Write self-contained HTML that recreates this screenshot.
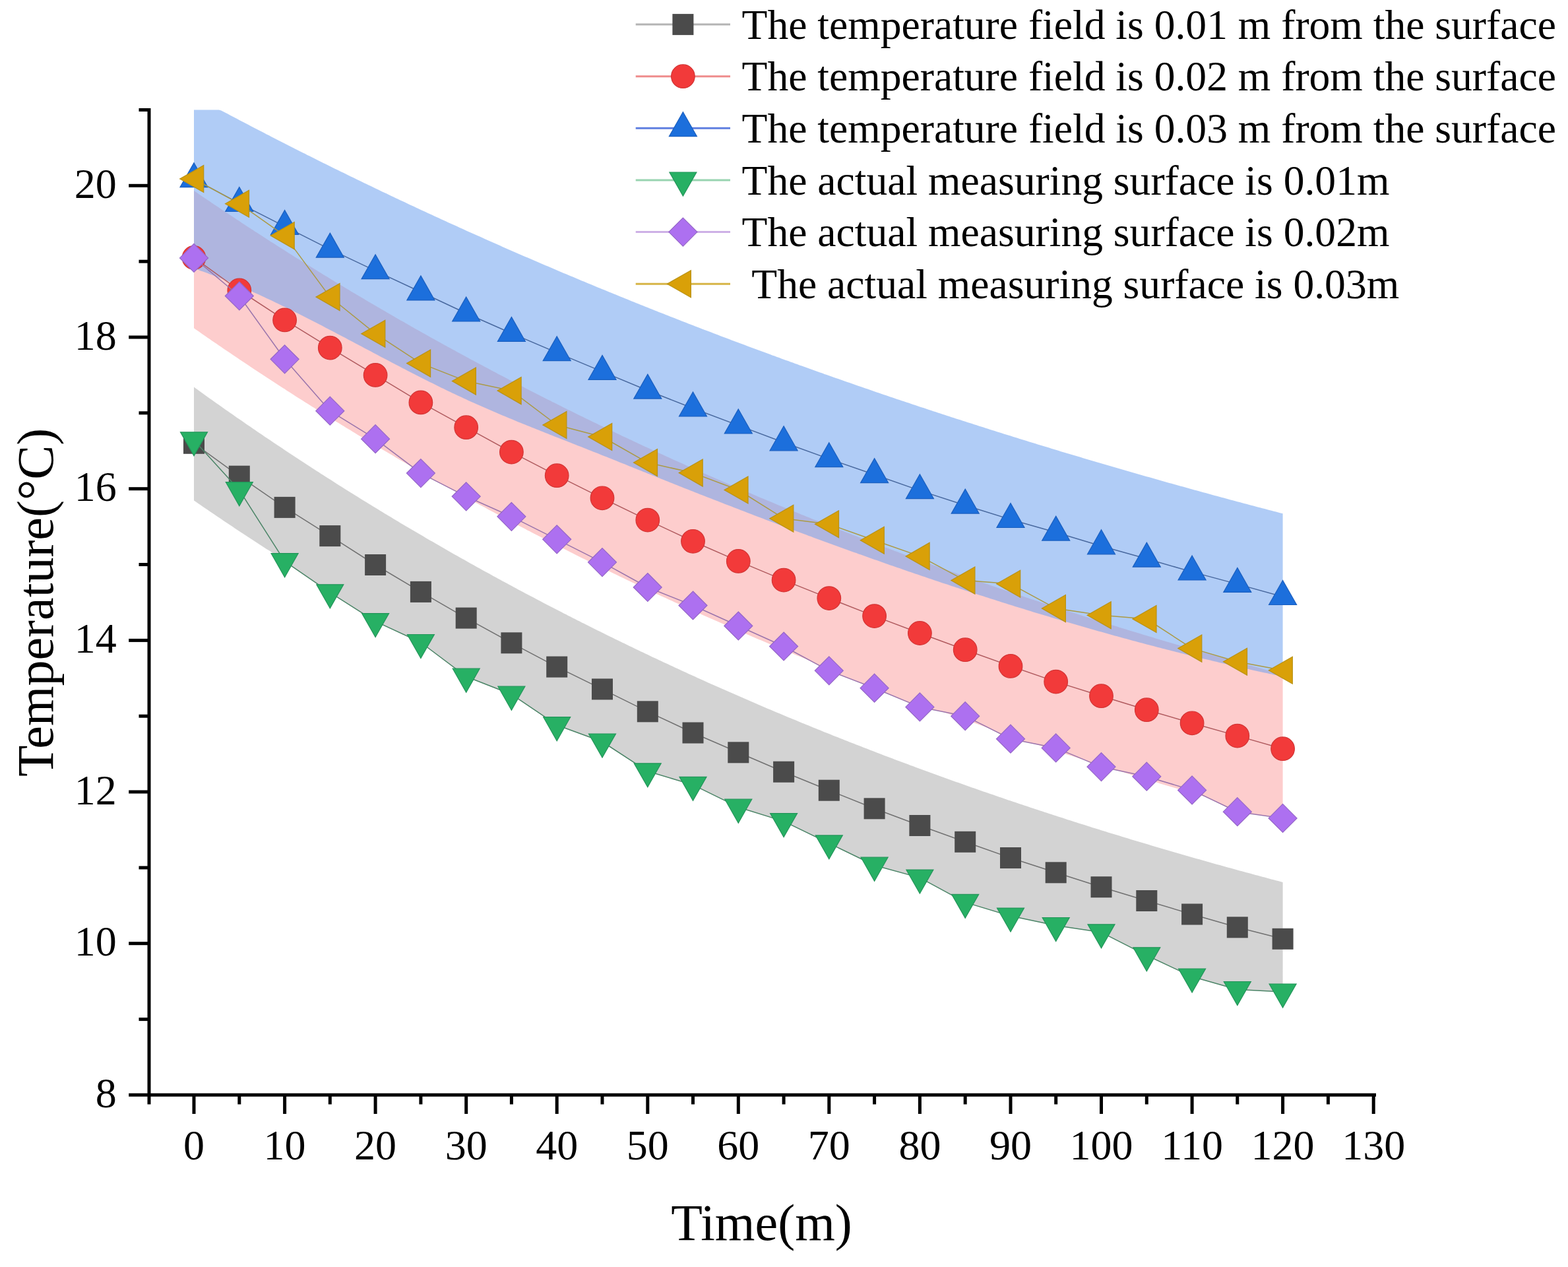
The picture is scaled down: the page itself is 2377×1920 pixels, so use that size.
<!DOCTYPE html><html><head><meta charset="utf-8"><title>Temperature vs Time</title><style>html,body{margin:0;padding:0;background:#fff;overflow:hidden}svg{display:block;filter:blur(0.7px)}text{font-family:"Liberation Serif","Times New Roman",serif;fill:#000}</style></head><body>
<svg xmlns="http://www.w3.org/2000/svg" width="2377" height="1920" viewBox="0 0 2377 1920">
<rect width="2377" height="1920" fill="#fff"/>
<path d="M294.0,586.6 L297.4,589.1 L300.9,591.6 L304.3,594.0 L307.8,596.5 L311.2,599.0 L314.6,601.4 L318.1,603.9 L321.5,606.3 L324.9,608.8 L328.4,611.2 L331.8,613.6 L335.3,616.0 L338.7,618.5 L342.1,620.9 L345.6,623.3 L349.0,625.7 L352.5,628.1 L355.9,630.5 L359.3,632.9 L362.8,635.3 L366.2,637.6 L369.7,640.0 L373.1,642.4 L376.5,644.8 L380.0,647.1 L383.4,649.5 L386.8,651.8 L390.3,654.2 L393.7,656.5 L397.2,658.8 L400.6,661.2 L404.0,663.5 L407.5,665.8 L410.9,668.1 L414.4,670.4 L417.8,672.7 L421.2,675.0 L424.7,677.3 L428.1,679.6 L431.6,681.9 L435.0,684.2 L438.4,686.5 L441.9,688.7 L445.3,691.0 L448.7,693.3 L452.2,695.5 L455.6,697.8 L459.1,700.0 L462.5,702.3 L465.9,704.5 L469.4,706.8 L472.8,709.0 L476.3,711.2 L479.7,713.4 L483.1,715.6 L486.6,717.9 L490.0,720.1 L493.4,722.3 L496.9,724.5 L500.3,726.6 L503.8,728.8 L507.2,731.0 L510.6,733.2 L514.1,735.4 L517.5,737.5 L521.0,739.7 L524.4,741.9 L527.8,744.0 L531.3,746.2 L534.7,748.3 L538.2,750.5 L541.6,752.6 L545.0,754.7 L548.5,756.9 L551.9,759.0 L555.3,761.1 L558.8,763.2 L562.2,765.3 L565.7,767.4 L569.1,769.5 L572.5,771.6 L576.0,773.7 L579.4,775.8 L582.9,777.9 L586.3,780.0 L589.7,782.0 L593.2,784.1 L596.6,786.2 L600.0,788.2 L603.5,790.3 L606.9,792.4 L610.4,794.4 L613.8,796.4 L617.2,798.5 L620.7,800.5 L624.1,802.6 L627.6,804.6 L631.0,806.6 L634.4,808.6 L637.9,810.6 L641.3,812.6 L644.8,814.7 L648.2,816.7 L651.6,818.7 L655.1,820.6 L658.5,822.6 L661.9,824.6 L665.4,826.6 L668.8,828.6 L672.3,830.6 L675.7,832.5 L679.1,834.5 L682.6,836.4 L686.0,838.4 L689.5,840.4 L692.9,842.3 L696.3,844.2 L699.8,846.2 L703.2,848.1 L706.7,850.1 L710.1,852.0 L713.5,853.9 L717.0,855.8 L720.4,857.7 L723.8,859.7 L727.3,861.6 L730.7,863.5 L734.2,865.4 L737.6,867.3 L741.0,869.1 L744.5,871.0 L747.9,872.9 L751.4,874.8 L754.8,876.7 L758.2,878.5 L761.7,880.4 L765.1,882.3 L768.5,884.1 L772.0,886.0 L775.4,887.8 L778.9,889.7 L782.3,891.5 L785.7,893.4 L789.2,895.2 L792.6,897.0 L796.1,898.9 L799.5,900.7 L802.9,902.5 L806.4,904.3 L809.8,906.1 L813.3,908.0 L816.7,909.8 L820.1,911.6 L823.6,913.4 L827.0,915.2 L830.4,916.9 L833.9,918.7 L837.3,920.5 L840.8,922.3 L844.2,924.1 L847.6,925.8 L851.1,927.6 L854.5,929.4 L858.0,931.1 L861.4,932.9 L864.8,934.6 L868.3,936.4 L871.7,938.1 L875.1,939.9 L878.6,941.6 L882.0,943.4 L885.5,945.1 L888.9,946.8 L892.3,948.5 L895.8,950.3 L899.2,952.0 L902.7,953.7 L906.1,955.4 L909.5,957.1 L913.0,958.8 L916.4,960.5 L919.9,962.2 L923.3,963.9 L926.7,965.6 L930.2,967.3 L933.6,968.9 L937.0,970.6 L940.5,972.3 L943.9,974.0 L947.4,975.6 L950.8,977.3 L954.2,979.0 L957.7,980.6 L961.1,982.3 L964.6,983.9 L968.0,985.6 L971.4,987.2 L974.9,988.8 L978.3,990.5 L981.8,992.1 L985.2,993.7 L988.6,995.4 L992.1,997.0 L995.5,998.6 L998.9,1000.2 L1002.4,1001.8 L1005.8,1003.4 L1009.3,1005.0 L1012.7,1006.6 L1016.1,1008.2 L1019.6,1009.8 L1023.0,1011.4 L1026.5,1013.0 L1029.9,1014.6 L1033.3,1016.2 L1036.8,1017.8 L1040.2,1019.3 L1043.6,1020.9 L1047.1,1022.5 L1050.5,1024.0 L1054.0,1025.6 L1057.4,1027.2 L1060.8,1028.7 L1064.3,1030.3 L1067.7,1031.8 L1071.2,1033.4 L1074.6,1034.9 L1078.0,1036.4 L1081.5,1038.0 L1084.9,1039.5 L1088.4,1041.0 L1091.8,1042.6 L1095.2,1044.1 L1098.7,1045.6 L1102.1,1047.1 L1105.5,1048.6 L1109.0,1050.1 L1112.4,1051.6 L1115.9,1053.1 L1119.3,1054.6 L1122.7,1056.1 L1126.2,1057.6 L1129.6,1059.1 L1133.1,1060.6 L1136.5,1062.1 L1139.9,1063.6 L1143.4,1065.1 L1146.8,1066.5 L1150.2,1068.0 L1153.7,1069.5 L1157.1,1070.9 L1160.6,1072.4 L1164.0,1073.9 L1167.4,1075.3 L1170.9,1076.8 L1174.3,1078.2 L1177.8,1079.7 L1181.2,1081.1 L1184.6,1082.6 L1188.1,1084.0 L1191.5,1085.4 L1195.0,1086.9 L1198.4,1088.3 L1201.8,1089.7 L1205.3,1091.1 L1208.7,1092.6 L1212.1,1094.0 L1215.6,1095.4 L1219.0,1096.8 L1222.5,1098.2 L1225.9,1099.6 L1229.3,1101.0 L1232.8,1102.4 L1236.2,1103.8 L1239.7,1105.2 L1243.1,1106.6 L1246.5,1108.0 L1250.0,1109.4 L1253.4,1110.7 L1256.8,1112.1 L1260.3,1113.5 L1263.7,1114.9 L1267.2,1116.2 L1270.6,1117.6 L1274.0,1119.0 L1277.5,1120.3 L1280.9,1121.7 L1284.4,1123.1 L1287.8,1124.4 L1291.2,1125.8 L1294.7,1127.1 L1298.1,1128.4 L1301.6,1129.8 L1305.0,1131.1 L1308.4,1132.5 L1311.9,1133.8 L1315.3,1135.1 L1318.7,1136.5 L1322.2,1137.8 L1325.6,1139.1 L1329.1,1140.4 L1332.5,1141.7 L1335.9,1143.0 L1339.4,1144.4 L1342.8,1145.7 L1346.3,1147.0 L1349.7,1148.3 L1353.1,1149.6 L1356.6,1150.9 L1360.0,1152.2 L1363.5,1153.5 L1366.9,1154.7 L1370.3,1156.0 L1373.8,1157.3 L1377.2,1158.6 L1380.6,1159.9 L1384.1,1161.1 L1387.5,1162.4 L1391.0,1163.7 L1394.4,1165.0 L1397.8,1166.2 L1401.3,1167.5 L1404.7,1168.7 L1408.2,1170.0 L1411.6,1171.3 L1415.0,1172.5 L1418.5,1173.8 L1421.9,1175.0 L1425.3,1176.2 L1428.8,1177.5 L1432.2,1178.7 L1435.7,1180.0 L1439.1,1181.2 L1442.5,1182.4 L1446.0,1183.7 L1449.4,1184.9 L1452.9,1186.1 L1456.3,1187.3 L1459.7,1188.5 L1463.2,1189.8 L1466.6,1191.0 L1470.1,1192.2 L1473.5,1193.4 L1476.9,1194.6 L1480.4,1195.8 L1483.8,1197.0 L1487.2,1198.2 L1490.7,1199.4 L1494.1,1200.6 L1497.6,1201.8 L1501.0,1202.9 L1504.4,1204.1 L1507.9,1205.3 L1511.3,1206.5 L1514.8,1207.7 L1518.2,1208.8 L1521.6,1210.0 L1525.1,1211.2 L1528.5,1212.4 L1532.0,1213.5 L1535.4,1214.7 L1538.8,1215.8 L1542.3,1217.0 L1545.7,1218.2 L1549.1,1219.3 L1552.6,1220.5 L1556.0,1221.6 L1559.5,1222.8 L1562.9,1223.9 L1566.3,1225.0 L1569.8,1226.2 L1573.2,1227.3 L1576.7,1228.4 L1580.1,1229.6 L1583.5,1230.7 L1587.0,1231.8 L1590.4,1233.0 L1593.8,1234.1 L1597.3,1235.2 L1600.7,1236.3 L1604.2,1237.4 L1607.6,1238.5 L1611.0,1239.6 L1614.5,1240.8 L1617.9,1241.9 L1621.4,1243.0 L1624.8,1244.1 L1628.2,1245.2 L1631.7,1246.3 L1635.1,1247.4 L1638.6,1248.4 L1642.0,1249.5 L1645.4,1250.6 L1648.9,1251.7 L1652.3,1252.8 L1655.7,1253.9 L1659.2,1254.9 L1662.6,1256.0 L1666.1,1257.1 L1669.5,1258.2 L1672.9,1259.2 L1676.4,1260.3 L1679.8,1261.4 L1683.3,1262.4 L1686.7,1263.5 L1690.1,1264.5 L1693.6,1265.6 L1697.0,1266.6 L1700.4,1267.7 L1703.9,1268.7 L1707.3,1269.8 L1710.8,1270.8 L1714.2,1271.9 L1717.6,1272.9 L1721.1,1274.0 L1724.5,1275.0 L1728.0,1276.0 L1731.4,1277.1 L1734.8,1278.1 L1738.3,1279.1 L1741.7,1280.1 L1745.2,1281.2 L1748.6,1282.2 L1752.0,1283.2 L1755.5,1284.2 L1758.9,1285.2 L1762.3,1286.2 L1765.8,1287.2 L1769.2,1288.2 L1772.7,1289.3 L1776.1,1290.3 L1779.5,1291.3 L1783.0,1292.3 L1786.4,1293.3 L1789.9,1294.2 L1793.3,1295.2 L1796.7,1296.2 L1800.2,1297.2 L1803.6,1298.2 L1807.1,1299.2 L1810.5,1300.2 L1813.9,1301.2 L1817.4,1302.1 L1820.8,1303.1 L1824.2,1304.1 L1827.7,1305.1 L1831.1,1306.0 L1834.6,1307.0 L1838.0,1308.0 L1841.4,1308.9 L1844.9,1309.9 L1848.3,1310.8 L1851.8,1311.8 L1855.2,1312.8 L1858.6,1313.7 L1862.1,1314.7 L1865.5,1315.6 L1868.9,1316.6 L1872.4,1317.5 L1875.8,1318.4 L1879.3,1319.4 L1882.7,1320.3 L1886.1,1321.3 L1889.6,1322.2 L1893.0,1323.1 L1896.5,1324.1 L1899.9,1325.0 L1903.3,1325.9 L1906.8,1326.8 L1910.2,1327.8 L1913.7,1328.7 L1917.1,1329.6 L1920.5,1330.5 L1924.0,1331.4 L1927.4,1332.4 L1930.8,1333.3 L1934.3,1334.2 L1937.7,1335.1 L1941.2,1336.0 L1944.6,1336.9 L1944.6,1503.0 L1941.2,1502.8 L1937.7,1502.6 L1934.3,1502.4 L1930.8,1502.3 L1927.4,1502.1 L1924.0,1501.9 L1920.5,1501.8 L1917.1,1501.6 L1913.7,1501.4 L1910.2,1501.2 L1906.8,1501.1 L1903.3,1500.9 L1899.9,1500.7 L1896.5,1500.5 L1893.0,1500.4 L1889.6,1500.2 L1886.1,1500.0 L1882.7,1499.9 L1879.3,1499.7 L1875.8,1499.5 L1872.4,1498.5 L1868.9,1497.6 L1865.5,1496.6 L1862.1,1495.6 L1858.6,1494.6 L1855.2,1493.7 L1851.8,1492.7 L1848.3,1491.7 L1844.9,1490.7 L1841.4,1489.8 L1838.0,1488.8 L1834.6,1487.8 L1831.1,1486.8 L1827.7,1485.8 L1824.2,1484.9 L1820.8,1483.9 L1817.4,1482.9 L1813.9,1481.9 L1810.5,1481.0 L1807.1,1480.0 L1803.6,1478.4 L1800.2,1476.8 L1796.7,1475.2 L1793.3,1473.6 L1789.9,1472.0 L1786.4,1470.3 L1783.0,1468.7 L1779.5,1467.1 L1776.1,1465.5 L1772.7,1463.9 L1769.2,1462.3 L1765.8,1460.7 L1762.3,1459.1 L1758.9,1457.5 L1755.5,1455.9 L1752.0,1454.3 L1748.6,1452.7 L1745.2,1451.1 L1741.7,1449.4 L1738.3,1447.8 L1734.8,1446.1 L1731.4,1444.3 L1728.0,1442.6 L1724.5,1440.8 L1721.1,1439.1 L1717.6,1437.3 L1714.2,1435.6 L1710.8,1433.8 L1707.3,1432.1 L1703.9,1430.3 L1700.4,1428.6 L1697.0,1426.8 L1693.6,1425.1 L1690.1,1423.3 L1686.7,1421.6 L1683.3,1419.8 L1679.8,1418.1 L1676.4,1416.3 L1672.9,1414.6 L1669.5,1412.8 L1666.1,1412.3 L1662.6,1411.8 L1659.2,1411.3 L1655.7,1410.7 L1652.3,1410.2 L1648.9,1409.7 L1645.4,1409.2 L1642.0,1408.7 L1638.6,1408.2 L1635.1,1407.6 L1631.7,1407.1 L1628.2,1406.6 L1624.8,1406.1 L1621.4,1405.6 L1617.9,1405.1 L1614.5,1404.5 L1611.0,1404.0 L1607.6,1403.5 L1604.2,1403.0 L1600.7,1402.5 L1597.3,1401.8 L1593.8,1401.0 L1590.4,1400.3 L1587.0,1399.6 L1583.5,1398.9 L1580.1,1398.2 L1576.7,1397.5 L1573.2,1396.7 L1569.8,1396.0 L1566.3,1395.3 L1562.9,1394.6 L1559.5,1393.9 L1556.0,1393.1 L1552.6,1392.4 L1549.1,1391.7 L1545.7,1391.0 L1542.3,1390.3 L1538.8,1389.6 L1535.4,1388.8 L1532.0,1388.1 L1528.5,1387.1 L1525.1,1386.1 L1521.6,1385.0 L1518.2,1384.0 L1514.8,1383.0 L1511.3,1381.9 L1507.9,1380.9 L1504.4,1379.9 L1501.0,1378.8 L1497.6,1377.8 L1494.1,1376.8 L1490.7,1375.7 L1487.2,1374.7 L1483.8,1373.6 L1480.4,1372.6 L1476.9,1371.6 L1473.5,1370.5 L1470.1,1369.5 L1466.6,1368.5 L1463.2,1367.4 L1459.7,1365.6 L1456.3,1363.7 L1452.9,1361.8 L1449.4,1360.0 L1446.0,1358.1 L1442.5,1356.3 L1439.1,1354.4 L1435.7,1352.5 L1432.2,1350.7 L1428.8,1348.8 L1425.3,1346.9 L1421.9,1345.1 L1418.5,1343.2 L1415.0,1341.3 L1411.6,1339.5 L1408.2,1337.6 L1404.7,1335.7 L1401.3,1333.9 L1397.8,1332.0 L1394.4,1330.1 L1391.0,1329.2 L1387.5,1328.2 L1384.1,1327.3 L1380.6,1326.3 L1377.2,1325.4 L1373.8,1324.4 L1370.3,1323.5 L1366.9,1322.5 L1363.5,1321.6 L1360.0,1320.7 L1356.6,1319.7 L1353.1,1318.8 L1349.7,1317.8 L1346.3,1316.9 L1342.8,1315.9 L1339.4,1315.0 L1335.9,1314.0 L1332.5,1313.1 L1329.1,1312.1 L1325.6,1311.2 L1322.2,1309.5 L1318.7,1307.8 L1315.3,1306.2 L1311.9,1304.5 L1308.4,1302.9 L1305.0,1301.2 L1301.6,1299.5 L1298.1,1297.9 L1294.7,1296.2 L1291.2,1294.5 L1287.8,1292.9 L1284.4,1291.2 L1280.9,1289.5 L1277.5,1287.9 L1274.0,1286.2 L1270.6,1284.5 L1267.2,1282.9 L1263.7,1281.2 L1260.3,1279.5 L1256.8,1277.9 L1253.4,1276.2 L1250.0,1274.5 L1246.5,1272.9 L1243.1,1271.2 L1239.7,1269.5 L1236.2,1267.9 L1232.8,1266.2 L1229.3,1264.6 L1225.9,1262.9 L1222.5,1261.2 L1219.0,1259.6 L1215.6,1257.9 L1212.1,1256.2 L1208.7,1254.6 L1205.3,1252.9 L1201.8,1251.2 L1198.4,1249.6 L1195.0,1247.9 L1191.5,1246.2 L1188.1,1244.6 L1184.6,1243.5 L1181.2,1242.4 L1177.8,1241.4 L1174.3,1240.3 L1170.9,1239.2 L1167.4,1238.2 L1164.0,1237.1 L1160.6,1236.0 L1157.1,1235.0 L1153.7,1233.9 L1150.2,1232.8 L1146.8,1231.8 L1143.4,1230.7 L1139.9,1229.6 L1136.5,1228.5 L1133.1,1227.5 L1129.6,1226.4 L1126.2,1225.3 L1122.7,1224.3 L1119.3,1223.2 L1115.9,1221.5 L1112.4,1219.8 L1109.0,1218.1 L1105.5,1216.5 L1102.1,1214.8 L1098.7,1213.1 L1095.2,1211.4 L1091.8,1209.7 L1088.4,1208.0 L1084.9,1206.3 L1081.5,1204.6 L1078.0,1203.0 L1074.6,1201.3 L1071.2,1199.6 L1067.7,1197.9 L1064.3,1196.2 L1060.8,1194.5 L1057.4,1192.8 L1054.0,1191.1 L1050.5,1189.4 L1047.1,1188.4 L1043.6,1187.4 L1040.2,1186.3 L1036.8,1185.3 L1033.3,1184.3 L1029.9,1183.2 L1026.5,1182.2 L1023.0,1181.2 L1019.6,1180.1 L1016.1,1179.1 L1012.7,1178.1 L1009.3,1177.0 L1005.8,1176.0 L1002.4,1175.0 L998.9,1173.9 L995.5,1172.9 L992.1,1171.9 L988.6,1170.8 L985.2,1169.8 L981.8,1168.8 L978.3,1166.5 L974.9,1164.3 L971.4,1162.1 L968.0,1159.8 L964.6,1157.6 L961.1,1155.3 L957.7,1153.1 L954.2,1150.9 L950.8,1148.6 L947.4,1146.4 L943.9,1144.1 L940.5,1141.9 L937.0,1139.7 L933.6,1137.4 L930.2,1135.2 L926.7,1132.9 L923.3,1130.7 L919.9,1128.5 L916.4,1126.2 L913.0,1124.0 L909.5,1122.7 L906.1,1121.5 L902.7,1120.2 L899.2,1118.9 L895.8,1117.7 L892.3,1116.4 L888.9,1115.1 L885.5,1113.9 L882.0,1112.6 L878.6,1111.4 L875.1,1110.1 L871.7,1108.8 L868.3,1107.6 L864.8,1106.3 L861.4,1105.0 L858.0,1103.8 L854.5,1102.5 L851.1,1101.2 L847.6,1100.0 L844.2,1098.7 L840.8,1096.4 L837.3,1094.1 L833.9,1091.7 L830.4,1089.4 L827.0,1087.1 L823.6,1084.8 L820.1,1082.4 L816.7,1080.1 L813.3,1077.8 L809.8,1075.5 L806.4,1073.1 L802.9,1070.8 L799.5,1068.5 L796.1,1066.2 L792.6,1063.8 L789.2,1061.5 L785.7,1059.2 L782.3,1056.9 L778.9,1054.5 L775.4,1052.2 L772.0,1050.9 L768.5,1049.5 L765.1,1048.2 L761.7,1046.8 L758.2,1045.5 L754.8,1044.1 L751.4,1042.8 L747.9,1041.4 L744.5,1040.1 L741.0,1038.7 L737.6,1037.4 L734.2,1036.0 L730.7,1034.7 L727.3,1033.3 L723.8,1032.0 L720.4,1030.6 L717.0,1029.3 L713.5,1027.9 L710.1,1026.6 L706.7,1025.2 L703.2,1022.6 L699.8,1020.1 L696.3,1017.5 L692.9,1014.9 L689.5,1012.3 L686.0,1009.7 L682.6,1007.1 L679.1,1004.6 L675.7,1002.0 L672.3,999.4 L668.8,996.8 L665.4,994.2 L661.9,991.6 L658.5,989.1 L655.1,986.5 L651.6,983.9 L648.2,981.3 L644.8,978.7 L641.3,976.1 L637.9,973.5 L634.4,972.0 L631.0,970.4 L627.6,968.8 L624.1,967.2 L620.7,965.6 L617.2,964.0 L613.8,962.4 L610.4,960.8 L606.9,959.2 L603.5,957.6 L600.0,956.0 L596.6,954.4 L593.2,952.8 L589.7,951.2 L586.3,949.6 L582.9,948.0 L579.4,946.4 L576.0,944.8 L572.5,943.2 L569.1,941.6 L565.7,939.4 L562.2,937.2 L558.8,935.0 L555.3,932.8 L551.9,930.7 L548.5,928.5 L545.0,926.3 L541.6,924.1 L538.2,921.9 L534.7,919.7 L531.3,917.5 L527.8,915.3 L524.4,913.1 L521.0,910.9 L517.5,908.7 L514.1,906.5 L510.6,904.3 L507.2,902.1 L503.8,899.9 L500.3,897.8 L496.9,895.4 L493.4,893.0 L490.0,890.7 L486.6,888.3 L483.1,886.0 L479.7,883.6 L476.3,881.3 L472.8,878.9 L469.4,876.6 L465.9,874.2 L462.5,871.9 L459.1,869.5 L455.6,867.1 L452.2,864.8 L448.7,862.4 L445.3,860.1 L441.9,857.7 L438.4,855.4 L435.0,853.0 L431.6,850.7 L428.1,847.3 L424.7,845.1 L421.2,842.9 L417.8,840.7 L414.4,838.5 L410.9,836.3 L407.5,834.1 L404.0,831.9 L400.6,829.7 L397.2,827.5 L393.7,825.2 L390.3,823.0 L386.8,820.8 L383.4,818.5 L380.0,816.3 L376.5,814.0 L373.1,811.8 L369.7,809.5 L366.2,807.2 L362.8,804.9 L359.3,802.7 L355.9,800.4 L352.5,798.1 L349.0,795.8 L345.6,793.5 L342.1,791.2 L338.7,788.9 L335.3,786.6 L331.8,784.3 L328.4,782.0 L324.9,779.6 L321.5,777.3 L318.1,775.0 L314.6,772.6 L311.2,770.3 L307.8,767.9 L304.3,765.6 L300.9,763.2 L297.4,760.8 L294.0,758.5 Z" fill="#d3d3d3"/>
<path d="M294.0,289.0 L297.4,291.3 L300.9,293.7 L304.3,296.0 L307.8,298.4 L311.2,300.7 L314.6,303.0 L318.1,305.3 L321.5,307.7 L324.9,310.0 L328.4,312.3 L331.8,314.6 L335.3,316.9 L338.7,319.2 L342.1,321.5 L345.6,323.8 L349.0,326.1 L352.5,328.3 L355.9,330.6 L359.3,332.9 L362.8,335.1 L366.2,337.4 L369.7,339.7 L373.1,341.9 L376.5,344.2 L380.0,346.4 L383.4,348.6 L386.8,350.9 L390.3,353.1 L393.7,355.3 L397.2,357.6 L400.6,359.8 L404.0,362.0 L407.5,364.2 L410.9,366.4 L414.4,368.6 L417.8,370.8 L421.2,373.0 L424.7,375.2 L428.1,377.3 L431.6,379.5 L435.0,381.7 L438.4,383.9 L441.9,386.0 L445.3,388.2 L448.7,390.4 L452.2,392.5 L455.6,394.7 L459.1,396.8 L462.5,398.9 L465.9,401.1 L469.4,403.2 L472.8,405.3 L476.3,407.5 L479.7,409.6 L483.1,411.7 L486.6,413.8 L490.0,415.9 L493.4,418.0 L496.9,420.1 L500.3,422.2 L503.8,424.3 L507.2,426.4 L510.6,428.5 L514.1,430.6 L517.5,432.6 L521.0,434.7 L524.4,436.8 L527.8,438.8 L531.3,440.9 L534.7,442.9 L538.2,445.0 L541.6,447.0 L545.0,449.1 L548.5,451.1 L551.9,453.1 L555.3,455.2 L558.8,457.2 L562.2,459.2 L565.7,461.2 L569.1,463.3 L572.5,465.3 L576.0,467.3 L579.4,469.3 L582.9,471.3 L586.3,473.3 L589.7,475.3 L593.2,477.3 L596.6,479.2 L600.0,481.2 L603.5,483.2 L606.9,485.2 L610.4,487.1 L613.8,489.1 L617.2,491.1 L620.7,493.0 L624.1,495.0 L627.6,496.9 L631.0,498.9 L634.4,500.8 L637.9,502.7 L641.3,504.7 L644.8,506.6 L648.2,508.5 L651.6,510.4 L655.1,512.4 L658.5,514.3 L661.9,516.2 L665.4,518.1 L668.8,520.0 L672.3,521.9 L675.7,523.8 L679.1,525.7 L682.6,527.6 L686.0,529.5 L689.5,531.3 L692.9,533.2 L696.3,535.1 L699.8,537.0 L703.2,538.8 L706.7,540.7 L710.1,542.6 L713.5,544.4 L717.0,546.3 L720.4,548.1 L723.8,550.0 L727.3,551.8 L730.7,553.6 L734.2,555.5 L737.6,557.3 L741.0,559.1 L744.5,561.0 L747.9,562.8 L751.4,564.6 L754.8,566.4 L758.2,568.2 L761.7,570.0 L765.1,571.8 L768.5,573.6 L772.0,575.4 L775.4,577.2 L778.9,579.0 L782.3,580.8 L785.7,582.6 L789.2,584.3 L792.6,586.1 L796.1,587.9 L799.5,589.7 L802.9,591.4 L806.4,593.2 L809.8,594.9 L813.3,596.7 L816.7,598.4 L820.1,600.2 L823.6,601.9 L827.0,603.7 L830.4,605.4 L833.9,607.1 L837.3,608.9 L840.8,610.6 L844.2,612.3 L847.6,614.0 L851.1,615.8 L854.5,617.5 L858.0,619.2 L861.4,620.9 L864.8,622.6 L868.3,624.3 L871.7,626.0 L875.1,627.7 L878.6,629.4 L882.0,631.1 L885.5,632.7 L888.9,634.4 L892.3,636.1 L895.8,637.8 L899.2,639.4 L902.7,641.1 L906.1,642.8 L909.5,644.4 L913.0,646.1 L916.4,647.7 L919.9,649.4 L923.3,651.0 L926.7,652.7 L930.2,654.3 L933.6,656.0 L937.0,657.6 L940.5,659.2 L943.9,660.9 L947.4,662.5 L950.8,664.1 L954.2,665.7 L957.7,667.3 L961.1,668.9 L964.6,670.6 L968.0,672.2 L971.4,673.8 L974.9,675.4 L978.3,677.0 L981.8,678.6 L985.2,680.1 L988.6,681.7 L992.1,683.3 L995.5,684.9 L998.9,686.5 L1002.4,688.1 L1005.8,689.6 L1009.3,691.2 L1012.7,692.8 L1016.1,694.3 L1019.6,695.9 L1023.0,697.4 L1026.5,699.0 L1029.9,700.5 L1033.3,702.1 L1036.8,703.6 L1040.2,705.2 L1043.6,706.7 L1047.1,708.2 L1050.5,709.8 L1054.0,711.3 L1057.4,712.8 L1060.8,714.4 L1064.3,715.9 L1067.7,717.4 L1071.2,718.9 L1074.6,720.4 L1078.0,721.9 L1081.5,723.4 L1084.9,724.9 L1088.4,726.4 L1091.8,727.9 L1095.2,729.4 L1098.7,730.9 L1102.1,732.4 L1105.5,733.9 L1109.0,735.4 L1112.4,736.9 L1115.9,738.3 L1119.3,739.8 L1122.7,741.3 L1126.2,742.7 L1129.6,744.2 L1133.1,745.7 L1136.5,747.1 L1139.9,748.6 L1143.4,750.0 L1146.8,751.5 L1150.2,752.9 L1153.7,754.4 L1157.1,755.8 L1160.6,757.3 L1164.0,758.7 L1167.4,760.1 L1170.9,761.6 L1174.3,763.0 L1177.8,764.4 L1181.2,765.9 L1184.6,767.3 L1188.1,768.7 L1191.5,770.1 L1195.0,771.5 L1198.4,772.9 L1201.8,774.3 L1205.3,775.7 L1208.7,777.1 L1212.1,778.5 L1215.6,779.9 L1219.0,781.3 L1222.5,782.7 L1225.9,784.1 L1229.3,785.5 L1232.8,786.9 L1236.2,788.2 L1239.7,789.6 L1243.1,791.0 L1246.5,792.4 L1250.0,793.7 L1253.4,795.1 L1256.8,796.5 L1260.3,797.8 L1263.7,799.2 L1267.2,800.5 L1270.6,801.9 L1274.0,803.2 L1277.5,804.6 L1280.9,805.9 L1284.4,807.3 L1287.8,808.6 L1291.2,809.9 L1294.7,811.3 L1298.1,812.6 L1301.6,813.9 L1305.0,815.3 L1308.4,816.6 L1311.9,817.9 L1315.3,819.2 L1318.7,820.5 L1322.2,821.9 L1325.6,823.2 L1329.1,824.5 L1332.5,825.8 L1335.9,827.1 L1339.4,828.4 L1342.8,829.7 L1346.3,831.0 L1349.7,832.3 L1353.1,833.6 L1356.6,834.9 L1360.0,836.1 L1363.5,837.4 L1366.9,838.7 L1370.3,840.0 L1373.8,841.3 L1377.2,842.5 L1380.6,843.8 L1384.1,845.1 L1387.5,846.3 L1391.0,847.6 L1394.4,848.9 L1397.8,850.1 L1401.3,851.4 L1404.7,852.6 L1408.2,853.9 L1411.6,855.1 L1415.0,856.4 L1418.5,857.6 L1421.9,858.9 L1425.3,860.1 L1428.8,861.3 L1432.2,862.6 L1435.7,863.8 L1439.1,865.0 L1442.5,866.2 L1446.0,867.5 L1449.4,868.7 L1452.9,869.9 L1456.3,871.1 L1459.7,872.3 L1463.2,873.6 L1466.6,874.8 L1470.1,876.0 L1473.5,877.2 L1476.9,878.4 L1480.4,879.6 L1483.8,880.8 L1487.2,882.0 L1490.7,883.2 L1494.1,884.4 L1497.6,885.5 L1501.0,886.7 L1504.4,887.9 L1507.9,889.1 L1511.3,890.3 L1514.8,891.5 L1518.2,892.6 L1521.6,893.8 L1525.1,895.0 L1528.5,896.1 L1532.0,897.3 L1535.4,898.5 L1538.8,899.6 L1542.3,900.8 L1545.7,901.9 L1549.1,903.1 L1552.6,904.3 L1556.0,905.4 L1559.5,906.6 L1562.9,907.7 L1566.3,908.8 L1569.8,910.0 L1573.2,911.1 L1576.7,912.3 L1580.1,913.4 L1583.5,914.5 L1587.0,915.7 L1590.4,916.8 L1593.8,917.9 L1597.3,919.0 L1600.7,920.2 L1604.2,921.3 L1607.6,922.4 L1611.0,923.5 L1614.5,924.6 L1617.9,925.7 L1621.4,926.8 L1624.8,927.9 L1628.2,929.0 L1631.7,930.1 L1635.1,931.2 L1638.6,932.3 L1642.0,933.4 L1645.4,934.5 L1648.9,935.6 L1652.3,936.7 L1655.7,937.8 L1659.2,938.9 L1662.6,940.0 L1666.1,941.0 L1669.5,942.1 L1672.9,943.2 L1676.4,944.3 L1679.8,945.3 L1683.3,946.4 L1686.7,947.5 L1690.1,948.5 L1693.6,949.6 L1697.0,950.7 L1700.4,951.7 L1703.9,952.8 L1707.3,953.8 L1710.8,954.9 L1714.2,955.9 L1717.6,957.0 L1721.1,958.0 L1724.5,959.1 L1728.0,960.1 L1731.4,961.2 L1734.8,962.2 L1738.3,963.2 L1741.7,964.3 L1745.2,965.3 L1748.6,966.3 L1752.0,967.4 L1755.5,968.4 L1758.9,969.4 L1762.3,970.4 L1765.8,971.5 L1769.2,972.5 L1772.7,973.5 L1776.1,974.5 L1779.5,975.5 L1783.0,976.5 L1786.4,977.6 L1789.9,978.6 L1793.3,979.6 L1796.7,980.6 L1800.2,981.6 L1803.6,982.6 L1807.1,983.6 L1810.5,984.6 L1813.9,985.6 L1817.4,986.5 L1820.8,987.5 L1824.2,988.5 L1827.7,989.5 L1831.1,990.5 L1834.6,991.5 L1838.0,992.5 L1841.4,993.4 L1844.9,994.4 L1848.3,995.4 L1851.8,996.4 L1855.2,997.3 L1858.6,998.3 L1862.1,999.3 L1865.5,1000.2 L1868.9,1001.2 L1872.4,1002.1 L1875.8,1003.1 L1879.3,1004.1 L1882.7,1005.0 L1886.1,1006.0 L1889.6,1006.9 L1893.0,1007.9 L1896.5,1008.8 L1899.9,1009.8 L1903.3,1010.7 L1906.8,1011.6 L1910.2,1012.6 L1913.7,1013.5 L1917.1,1014.5 L1920.5,1015.4 L1924.0,1016.3 L1927.4,1017.3 L1930.8,1018.2 L1934.3,1019.1 L1937.7,1020.0 L1941.2,1021.0 L1944.6,1021.9 L1944.6,1240.1 L1941.2,1239.4 L1937.7,1238.9 L1934.3,1238.4 L1930.8,1238.0 L1927.4,1237.5 L1924.0,1237.0 L1920.5,1236.5 L1917.1,1236.0 L1913.7,1235.5 L1910.2,1235.1 L1906.8,1234.6 L1903.3,1234.1 L1899.9,1233.6 L1896.5,1233.1 L1893.0,1232.7 L1889.6,1232.2 L1886.1,1231.7 L1882.7,1231.2 L1879.3,1230.7 L1875.8,1230.2 L1872.4,1228.6 L1868.9,1227.0 L1865.5,1225.3 L1862.1,1223.7 L1858.6,1222.0 L1855.2,1220.4 L1851.8,1218.7 L1848.3,1217.1 L1844.9,1215.5 L1841.4,1213.8 L1838.0,1212.2 L1834.6,1210.5 L1831.1,1208.9 L1827.7,1207.6 L1824.2,1206.6 L1820.8,1205.6 L1817.4,1204.6 L1813.9,1203.6 L1810.5,1202.6 L1807.1,1201.6 L1803.6,1200.6 L1800.2,1199.6 L1796.7,1198.6 L1793.3,1197.6 L1789.9,1196.6 L1786.4,1195.6 L1783.0,1194.5 L1779.5,1193.5 L1776.1,1192.5 L1772.7,1191.5 L1769.2,1190.5 L1765.8,1189.4 L1762.3,1188.4 L1758.9,1187.4 L1755.5,1186.3 L1752.0,1185.3 L1748.6,1184.3 L1745.2,1183.2 L1741.7,1182.2 L1738.3,1181.2 L1734.8,1180.1 L1731.4,1179.1 L1728.0,1178.0 L1724.5,1177.0 L1721.1,1175.9 L1717.6,1174.9 L1714.2,1173.8 L1710.8,1172.8 L1707.3,1171.7 L1703.9,1170.6 L1700.4,1169.6 L1697.0,1168.5 L1693.6,1167.4 L1690.1,1166.5 L1686.7,1165.8 L1683.3,1165.1 L1679.8,1164.3 L1676.4,1163.6 L1672.9,1162.9 L1669.5,1162.1 L1666.1,1160.7 L1662.6,1159.3 L1659.2,1157.8 L1655.7,1156.4 L1652.3,1155.0 L1648.9,1153.5 L1645.4,1152.2 L1642.0,1151.1 L1638.6,1150.0 L1635.1,1148.9 L1631.7,1147.8 L1628.2,1146.7 L1624.8,1145.6 L1621.4,1144.5 L1617.9,1143.4 L1614.5,1142.3 L1611.0,1141.1 L1607.6,1140.0 L1604.2,1138.9 L1600.7,1137.8 L1597.3,1136.6 L1593.8,1135.5 L1590.4,1134.4 L1587.0,1133.2 L1583.5,1132.1 L1580.1,1130.9 L1576.7,1129.8 L1573.2,1128.7 L1569.8,1127.5 L1566.3,1126.5 L1562.9,1125.9 L1559.5,1125.2 L1556.0,1124.5 L1552.6,1123.8 L1549.1,1123.1 L1545.7,1122.4 L1542.3,1121.7 L1538.8,1121.0 L1535.4,1120.3 L1532.0,1119.7 L1528.5,1117.9 L1525.1,1116.2 L1521.6,1114.5 L1518.2,1112.8 L1514.8,1111.0 L1511.3,1109.3 L1507.9,1107.6 L1504.4,1105.9 L1501.0,1104.1 L1497.6,1102.9 L1494.1,1101.7 L1490.7,1100.5 L1487.2,1099.3 L1483.8,1098.1 L1480.4,1096.8 L1476.9,1095.6 L1473.5,1094.4 L1470.1,1093.2 L1466.6,1092.0 L1463.2,1090.8 L1459.7,1089.5 L1456.3,1088.3 L1452.9,1087.1 L1449.4,1085.9 L1446.0,1084.6 L1442.5,1083.4 L1439.1,1082.2 L1435.7,1080.9 L1432.2,1079.7 L1428.8,1078.4 L1425.3,1077.6 L1421.9,1076.9 L1418.5,1076.2 L1415.0,1075.6 L1411.6,1074.9 L1408.2,1074.2 L1404.7,1073.5 L1401.3,1072.8 L1397.8,1072.1 L1394.4,1071.4 L1391.0,1070.0 L1387.5,1068.5 L1384.1,1067.1 L1380.6,1065.7 L1377.2,1064.2 L1373.8,1062.8 L1370.3,1061.4 L1366.9,1059.9 L1363.5,1058.5 L1360.0,1057.1 L1356.6,1055.6 L1353.1,1054.2 L1349.7,1052.8 L1346.3,1051.3 L1342.8,1049.9 L1339.4,1048.5 L1335.9,1047.0 L1332.5,1045.6 L1329.1,1044.1 L1325.6,1042.7 L1322.2,1041.4 L1318.7,1040.1 L1315.3,1038.7 L1311.9,1037.4 L1308.4,1036.1 L1305.0,1034.8 L1301.6,1033.5 L1298.1,1032.1 L1294.7,1030.8 L1291.2,1029.5 L1287.8,1028.2 L1284.4,1026.9 L1280.9,1025.5 L1277.5,1024.2 L1274.0,1022.9 L1270.6,1021.6 L1267.2,1020.3 L1263.7,1018.9 L1260.3,1017.6 L1256.8,1016.3 L1253.4,1014.5 L1250.0,1012.6 L1246.5,1010.8 L1243.1,1008.9 L1239.7,1007.1 L1236.2,1005.3 L1232.8,1003.4 L1229.3,1001.8 L1225.9,1000.4 L1222.5,999.0 L1219.0,997.6 L1215.6,996.2 L1212.1,994.8 L1208.7,993.4 L1205.3,991.9 L1201.8,990.5 L1198.4,989.1 L1195.0,987.7 L1191.5,986.2 L1188.1,984.8 L1184.6,983.4 L1181.2,981.9 L1177.8,980.5 L1174.3,979.1 L1170.9,977.6 L1167.4,976.2 L1164.0,974.7 L1160.6,973.3 L1157.1,971.8 L1153.7,970.3 L1150.2,968.9 L1146.8,967.4 L1143.4,965.9 L1139.9,964.5 L1136.5,963.0 L1133.1,961.5 L1129.6,960.0 L1126.2,958.6 L1122.7,957.1 L1119.3,955.6 L1115.9,954.1 L1112.4,952.6 L1109.0,951.1 L1105.5,949.6 L1102.1,948.1 L1098.7,946.6 L1095.2,945.1 L1091.8,943.6 L1088.4,942.1 L1084.9,940.5 L1081.5,939.0 L1078.0,937.5 L1074.6,936.0 L1071.2,934.4 L1067.7,932.9 L1064.3,931.4 L1060.8,929.8 L1057.4,928.3 L1054.0,926.7 L1050.5,925.2 L1047.1,923.6 L1043.6,922.1 L1040.2,920.5 L1036.8,919.0 L1033.3,917.4 L1029.9,915.8 L1026.5,914.2 L1023.0,912.7 L1019.6,911.1 L1016.1,909.5 L1012.7,907.9 L1009.3,906.3 L1005.8,904.8 L1002.4,903.2 L998.9,901.6 L995.5,900.0 L992.1,898.4 L988.6,896.8 L985.2,895.2 L981.8,893.5 L978.3,891.9 L974.9,890.3 L971.4,888.7 L968.0,887.1 L964.6,885.4 L961.1,883.8 L957.7,882.2 L954.2,880.5 L950.8,878.9 L947.4,877.2 L943.9,875.6 L940.5,873.9 L937.0,872.3 L933.6,870.6 L930.2,869.0 L926.7,867.3 L923.3,865.6 L919.9,864.0 L916.4,862.3 L913.0,860.6 L909.5,858.9 L906.1,857.3 L902.7,855.6 L899.2,853.9 L895.8,852.2 L892.3,850.5 L888.9,848.8 L885.5,847.1 L882.0,845.4 L878.6,843.7 L875.1,841.9 L871.7,840.2 L868.3,838.5 L864.8,836.8 L861.4,835.1 L858.0,833.3 L854.5,831.6 L851.1,829.9 L847.6,828.1 L844.2,826.4 L840.8,824.6 L837.3,822.9 L833.9,821.1 L830.4,819.3 L827.0,817.6 L823.6,815.8 L820.1,814.1 L816.7,812.3 L813.3,810.5 L809.8,808.7 L806.4,806.9 L802.9,805.1 L799.5,803.4 L796.1,801.6 L792.6,799.8 L789.2,798.0 L785.7,796.2 L782.3,794.4 L778.9,792.5 L775.4,790.7 L772.0,788.9 L768.5,787.1 L765.1,785.3 L761.7,783.4 L758.2,781.6 L754.8,779.8 L751.4,777.9 L747.9,776.1 L744.5,774.2 L741.0,772.4 L737.6,770.5 L734.2,768.6 L730.7,766.8 L727.3,764.9 L723.8,763.0 L720.4,761.2 L717.0,759.3 L713.5,757.4 L710.1,755.5 L706.7,753.6 L703.2,751.7 L699.8,749.8 L696.3,747.9 L692.9,746.0 L689.5,744.1 L686.0,742.2 L682.6,740.3 L679.1,738.4 L675.7,736.5 L672.3,734.7 L668.8,733.0 L665.4,731.2 L661.9,729.4 L658.5,727.7 L655.1,725.9 L651.6,724.2 L648.2,722.4 L644.8,720.7 L641.3,718.9 L637.9,717.1 L634.4,714.5 L631.0,711.9 L627.6,709.4 L624.1,707.1 L620.7,705.2 L617.2,703.2 L613.8,701.2 L610.4,699.2 L606.9,697.2 L603.5,695.2 L600.0,693.2 L596.6,691.1 L593.2,689.1 L589.7,687.1 L586.3,685.1 L582.9,683.1 L579.4,681.0 L576.0,679.0 L572.5,676.9 L569.1,674.9 L565.7,672.8 L562.2,670.8 L558.8,668.7 L555.3,666.7 L551.9,664.6 L548.5,662.5 L545.0,660.5 L541.6,658.4 L538.2,656.3 L534.7,654.2 L531.3,652.1 L527.8,650.0 L524.4,647.9 L521.0,645.8 L517.5,643.7 L514.1,641.6 L510.6,639.5 L507.2,637.4 L503.8,635.2 L500.3,633.1 L496.9,631.0 L493.4,628.8 L490.0,626.7 L486.6,624.6 L483.1,622.4 L479.7,620.3 L476.3,618.1 L472.8,615.9 L469.4,613.8 L465.9,611.6 L462.5,609.4 L459.1,607.2 L455.6,605.1 L452.2,602.9 L448.7,600.7 L445.3,598.5 L441.9,596.3 L438.4,594.1 L435.0,591.9 L431.6,589.6 L428.1,587.4 L424.7,585.2 L421.2,583.0 L417.8,580.7 L414.4,578.5 L410.9,576.3 L407.5,574.0 L404.0,571.8 L400.6,569.5 L397.2,567.3 L393.7,565.0 L390.3,562.7 L386.8,560.4 L383.4,558.2 L380.0,555.9 L376.5,553.6 L373.1,551.3 L369.7,549.0 L366.2,546.7 L362.8,544.4 L359.3,542.1 L355.9,539.8 L352.5,537.5 L349.0,535.1 L345.6,532.8 L342.1,530.5 L338.7,528.2 L335.3,525.8 L331.8,523.5 L328.4,521.1 L324.9,518.8 L321.5,516.4 L318.1,514.0 L314.6,511.7 L311.2,509.3 L307.8,506.9 L304.3,504.5 L300.9,502.1 L297.4,499.7 L294.0,497.3 Z" fill="#fdcdcd"/>
<path d="M294.0,166.5 L297.4,166.5 L300.9,166.5 L304.3,166.5 L307.8,166.5 L311.2,166.5 L314.6,166.5 L318.1,166.5 L321.5,166.5 L324.9,166.5 L328.4,166.5 L331.8,166.5 L335.3,167.4 L338.7,169.2 L342.1,171.0 L345.6,172.8 L349.0,174.7 L352.5,176.5 L355.9,178.3 L359.3,180.1 L362.8,181.9 L366.2,183.7 L369.7,185.5 L373.1,187.3 L376.5,189.1 L380.0,190.9 L383.4,192.7 L386.8,194.5 L390.3,196.3 L393.7,198.0 L397.2,199.8 L400.6,201.6 L404.0,203.4 L407.5,205.1 L410.9,206.9 L414.4,208.7 L417.8,210.4 L421.2,212.2 L424.7,214.0 L428.1,215.7 L431.6,217.5 L435.0,219.2 L438.4,221.0 L441.9,222.7 L445.3,224.5 L448.7,226.2 L452.2,227.9 L455.6,229.7 L459.1,231.4 L462.5,233.1 L465.9,234.9 L469.4,236.6 L472.8,238.3 L476.3,240.0 L479.7,241.7 L483.1,243.4 L486.6,245.2 L490.0,246.9 L493.4,248.6 L496.9,250.3 L500.3,252.0 L503.8,253.7 L507.2,255.4 L510.6,257.1 L514.1,258.7 L517.5,260.4 L521.0,262.1 L524.4,263.8 L527.8,265.5 L531.3,267.2 L534.7,268.8 L538.2,270.5 L541.6,272.2 L545.0,273.8 L548.5,275.5 L551.9,277.2 L555.3,278.8 L558.8,280.5 L562.2,282.1 L565.7,283.8 L569.1,285.4 L572.5,287.1 L576.0,288.7 L579.4,290.4 L582.9,292.0 L586.3,293.6 L589.7,295.3 L593.2,296.9 L596.6,298.5 L600.0,300.2 L603.5,301.8 L606.9,303.4 L610.4,305.0 L613.8,306.6 L617.2,308.3 L620.7,309.9 L624.1,311.5 L627.6,313.1 L631.0,314.7 L634.4,316.3 L637.9,317.9 L641.3,319.5 L644.8,321.1 L648.2,322.7 L651.6,324.3 L655.1,325.8 L658.5,327.4 L661.9,329.0 L665.4,330.6 L668.8,332.2 L672.3,333.7 L675.7,335.3 L679.1,336.9 L682.6,338.5 L686.0,340.0 L689.5,341.6 L692.9,343.1 L696.3,344.7 L699.8,346.3 L703.2,347.8 L706.7,349.4 L710.1,350.9 L713.5,352.5 L717.0,354.0 L720.4,355.5 L723.8,357.1 L727.3,358.6 L730.7,360.1 L734.2,361.7 L737.6,363.2 L741.0,364.7 L744.5,366.3 L747.9,367.8 L751.4,369.3 L754.8,370.8 L758.2,372.3 L761.7,373.9 L765.1,375.4 L768.5,376.9 L772.0,378.4 L775.4,379.9 L778.9,381.4 L782.3,382.9 L785.7,384.4 L789.2,385.9 L792.6,387.4 L796.1,388.9 L799.5,390.3 L802.9,391.8 L806.4,393.3 L809.8,394.8 L813.3,396.3 L816.7,397.8 L820.1,399.2 L823.6,400.7 L827.0,402.2 L830.4,403.6 L833.9,405.1 L837.3,406.6 L840.8,408.0 L844.2,409.5 L847.6,410.9 L851.1,412.4 L854.5,413.9 L858.0,415.3 L861.4,416.7 L864.8,418.2 L868.3,419.6 L871.7,421.1 L875.1,422.5 L878.6,424.0 L882.0,425.4 L885.5,426.8 L888.9,428.3 L892.3,429.7 L895.8,431.1 L899.2,432.5 L902.7,433.9 L906.1,435.4 L909.5,436.8 L913.0,438.2 L916.4,439.6 L919.9,441.0 L923.3,442.4 L926.7,443.8 L930.2,445.2 L933.6,446.6 L937.0,448.0 L940.5,449.4 L943.9,450.8 L947.4,452.2 L950.8,453.6 L954.2,455.0 L957.7,456.4 L961.1,457.8 L964.6,459.2 L968.0,460.5 L971.4,461.9 L974.9,463.3 L978.3,464.7 L981.8,466.0 L985.2,467.4 L988.6,468.8 L992.1,470.2 L995.5,471.5 L998.9,472.9 L1002.4,474.2 L1005.8,475.6 L1009.3,476.9 L1012.7,478.3 L1016.1,479.7 L1019.6,481.0 L1023.0,482.3 L1026.5,483.7 L1029.9,485.0 L1033.3,486.4 L1036.8,487.7 L1040.2,489.1 L1043.6,490.4 L1047.1,491.7 L1050.5,493.1 L1054.0,494.4 L1057.4,495.7 L1060.8,497.0 L1064.3,498.4 L1067.7,499.7 L1071.2,501.0 L1074.6,502.3 L1078.0,503.6 L1081.5,504.9 L1084.9,506.3 L1088.4,507.6 L1091.8,508.9 L1095.2,510.2 L1098.7,511.5 L1102.1,512.8 L1105.5,514.1 L1109.0,515.4 L1112.4,516.7 L1115.9,518.0 L1119.3,519.2 L1122.7,520.5 L1126.2,521.8 L1129.6,523.1 L1133.1,524.4 L1136.5,525.7 L1139.9,526.9 L1143.4,528.2 L1146.8,529.5 L1150.2,530.8 L1153.7,532.0 L1157.1,533.3 L1160.6,534.6 L1164.0,535.8 L1167.4,537.1 L1170.9,538.4 L1174.3,539.6 L1177.8,540.9 L1181.2,542.1 L1184.6,543.4 L1188.1,544.7 L1191.5,545.9 L1195.0,547.1 L1198.4,548.4 L1201.8,549.6 L1205.3,550.9 L1208.7,552.1 L1212.1,553.4 L1215.6,554.6 L1219.0,555.8 L1222.5,557.1 L1225.9,558.3 L1229.3,559.5 L1232.8,560.8 L1236.2,562.0 L1239.7,563.2 L1243.1,564.4 L1246.5,565.6 L1250.0,566.9 L1253.4,568.1 L1256.8,569.3 L1260.3,570.5 L1263.7,571.7 L1267.2,572.9 L1270.6,574.1 L1274.0,575.3 L1277.5,576.5 L1280.9,577.7 L1284.4,578.9 L1287.8,580.1 L1291.2,581.3 L1294.7,582.5 L1298.1,583.7 L1301.6,584.9 L1305.0,586.1 L1308.4,587.3 L1311.9,588.5 L1315.3,589.6 L1318.7,590.8 L1322.2,592.0 L1325.6,593.2 L1329.1,594.4 L1332.5,595.5 L1335.9,596.7 L1339.4,597.9 L1342.8,599.0 L1346.3,600.2 L1349.7,601.4 L1353.1,602.5 L1356.6,603.7 L1360.0,604.9 L1363.5,606.0 L1366.9,607.2 L1370.3,608.3 L1373.8,609.5 L1377.2,610.6 L1380.6,611.8 L1384.1,612.9 L1387.5,614.1 L1391.0,615.2 L1394.4,616.4 L1397.8,617.5 L1401.3,618.6 L1404.7,619.8 L1408.2,620.9 L1411.6,622.0 L1415.0,623.2 L1418.5,624.3 L1421.9,625.4 L1425.3,626.6 L1428.8,627.7 L1432.2,628.8 L1435.7,629.9 L1439.1,631.0 L1442.5,632.2 L1446.0,633.3 L1449.4,634.4 L1452.9,635.5 L1456.3,636.6 L1459.7,637.7 L1463.2,638.8 L1466.6,639.9 L1470.1,641.0 L1473.5,642.1 L1476.9,643.2 L1480.4,644.3 L1483.8,645.4 L1487.2,646.5 L1490.7,647.6 L1494.1,648.7 L1497.6,649.8 L1501.0,650.9 L1504.4,652.0 L1507.9,653.1 L1511.3,654.2 L1514.8,655.2 L1518.2,656.3 L1521.6,657.4 L1525.1,658.5 L1528.5,659.6 L1532.0,660.6 L1535.4,661.7 L1538.8,662.8 L1542.3,663.8 L1545.7,664.9 L1549.1,666.0 L1552.6,667.0 L1556.0,668.1 L1559.5,669.2 L1562.9,670.2 L1566.3,671.3 L1569.8,672.3 L1573.2,673.4 L1576.7,674.4 L1580.1,675.5 L1583.5,676.6 L1587.0,677.6 L1590.4,678.6 L1593.8,679.7 L1597.3,680.7 L1600.7,681.8 L1604.2,682.8 L1607.6,683.9 L1611.0,684.9 L1614.5,685.9 L1617.9,687.0 L1621.4,688.0 L1624.8,689.0 L1628.2,690.1 L1631.7,691.1 L1635.1,692.1 L1638.6,693.1 L1642.0,694.2 L1645.4,695.2 L1648.9,696.2 L1652.3,697.2 L1655.7,698.2 L1659.2,699.2 L1662.6,700.3 L1666.1,701.3 L1669.5,702.3 L1672.9,703.3 L1676.4,704.3 L1679.8,705.3 L1683.3,706.3 L1686.7,707.3 L1690.1,708.3 L1693.6,709.3 L1697.0,710.3 L1700.4,711.3 L1703.9,712.3 L1707.3,713.3 L1710.8,714.3 L1714.2,715.3 L1717.6,716.3 L1721.1,717.3 L1724.5,718.2 L1728.0,719.2 L1731.4,720.2 L1734.8,721.2 L1738.3,722.2 L1741.7,723.1 L1745.2,724.1 L1748.6,725.1 L1752.0,726.1 L1755.5,727.0 L1758.9,728.0 L1762.3,729.0 L1765.8,730.0 L1769.2,730.9 L1772.7,731.9 L1776.1,732.8 L1779.5,733.8 L1783.0,734.8 L1786.4,735.7 L1789.9,736.7 L1793.3,737.6 L1796.7,738.6 L1800.2,739.6 L1803.6,740.5 L1807.1,741.5 L1810.5,742.4 L1813.9,743.3 L1817.4,744.3 L1820.8,745.2 L1824.2,746.2 L1827.7,747.1 L1831.1,748.1 L1834.6,749.0 L1838.0,749.9 L1841.4,750.9 L1844.9,751.8 L1848.3,752.7 L1851.8,753.7 L1855.2,754.6 L1858.6,755.5 L1862.1,756.5 L1865.5,757.4 L1868.9,758.3 L1872.4,759.2 L1875.8,760.2 L1879.3,761.1 L1882.7,762.0 L1886.1,762.9 L1889.6,763.8 L1893.0,764.7 L1896.5,765.7 L1899.9,766.6 L1903.3,767.5 L1906.8,768.4 L1910.2,769.3 L1913.7,770.2 L1917.1,771.1 L1920.5,772.0 L1924.0,772.9 L1927.4,773.8 L1930.8,774.7 L1934.3,775.6 L1937.7,776.5 L1941.2,777.4 L1944.6,778.3 L1944.6,1025.2 L1941.2,1024.5 L1937.7,1023.8 L1934.3,1023.1 L1930.8,1022.4 L1927.4,1021.6 L1924.0,1020.9 L1920.5,1020.1 L1917.1,1019.4 L1913.7,1018.7 L1910.2,1017.9 L1906.8,1017.2 L1903.3,1016.4 L1899.9,1015.7 L1896.5,1014.9 L1893.0,1014.1 L1889.6,1013.4 L1886.1,1012.6 L1882.7,1011.8 L1879.3,1011.0 L1875.8,1010.3 L1872.4,1009.5 L1868.9,1008.7 L1865.5,1007.9 L1862.1,1007.1 L1858.6,1006.3 L1855.2,1005.5 L1851.8,1004.7 L1848.3,1003.9 L1844.9,1003.1 L1841.4,1002.3 L1838.0,1001.5 L1834.6,1000.6 L1831.1,999.8 L1827.7,999.0 L1824.2,998.2 L1820.8,997.3 L1817.4,996.5 L1813.9,995.6 L1810.5,994.8 L1807.1,994.0 L1803.6,993.1 L1800.2,992.3 L1796.7,991.4 L1793.3,990.5 L1789.9,989.7 L1786.4,988.8 L1783.0,988.0 L1779.5,987.1 L1776.1,986.2 L1772.7,985.3 L1769.2,984.5 L1765.8,983.6 L1762.3,982.7 L1758.9,981.8 L1755.5,980.9 L1752.0,980.0 L1748.6,979.1 L1745.2,978.2 L1741.7,977.3 L1738.3,976.4 L1734.8,975.5 L1731.4,974.6 L1728.0,973.7 L1724.5,972.7 L1721.1,971.8 L1717.6,970.9 L1714.2,970.0 L1710.8,969.0 L1707.3,968.1 L1703.9,967.2 L1700.4,966.2 L1697.0,965.3 L1693.6,964.3 L1690.1,963.4 L1686.7,962.4 L1683.3,961.5 L1679.8,960.5 L1676.4,959.6 L1672.9,958.6 L1669.5,957.6 L1666.1,956.7 L1662.6,955.7 L1659.2,954.7 L1655.7,953.7 L1652.3,952.8 L1648.9,951.8 L1645.4,950.8 L1642.0,949.8 L1638.6,948.8 L1635.1,947.8 L1631.7,946.8 L1628.2,945.8 L1624.8,944.8 L1621.4,943.8 L1617.9,942.8 L1614.5,941.8 L1611.0,940.8 L1607.6,939.8 L1604.2,938.7 L1600.7,937.7 L1597.3,936.7 L1593.8,935.7 L1590.4,934.6 L1587.0,933.6 L1583.5,932.6 L1580.1,931.5 L1576.7,930.5 L1573.2,929.4 L1569.8,928.4 L1566.3,927.4 L1562.9,926.3 L1559.5,925.2 L1556.0,924.2 L1552.6,923.1 L1549.1,922.1 L1545.7,921.0 L1542.3,919.9 L1538.8,918.9 L1535.4,917.8 L1532.0,916.7 L1528.5,915.7 L1525.1,914.6 L1521.6,913.5 L1518.2,912.4 L1514.8,911.3 L1511.3,910.2 L1507.9,909.1 L1504.4,908.0 L1501.0,906.9 L1497.6,905.8 L1494.1,904.7 L1490.7,903.6 L1487.2,902.5 L1483.8,901.4 L1480.4,900.3 L1476.9,899.2 L1473.5,898.1 L1470.1,897.0 L1466.6,895.8 L1463.2,894.7 L1459.7,893.6 L1456.3,892.5 L1452.9,891.3 L1449.4,890.2 L1446.0,889.1 L1442.5,887.9 L1439.1,886.8 L1435.7,885.6 L1432.2,884.5 L1428.8,883.4 L1425.3,882.2 L1421.9,881.1 L1418.5,879.9 L1415.0,878.7 L1411.6,877.6 L1408.2,876.4 L1404.7,875.3 L1401.3,874.1 L1397.8,872.9 L1394.4,871.8 L1391.0,870.6 L1387.5,869.4 L1384.1,868.2 L1380.6,867.1 L1377.2,865.9 L1373.8,864.7 L1370.3,863.5 L1366.9,862.3 L1363.5,861.1 L1360.0,859.9 L1356.6,858.8 L1353.1,857.6 L1349.7,856.4 L1346.3,855.2 L1342.8,854.0 L1339.4,852.7 L1335.9,851.5 L1332.5,850.3 L1329.1,849.1 L1325.6,847.9 L1322.2,846.7 L1318.7,845.5 L1315.3,844.3 L1311.9,843.0 L1308.4,841.8 L1305.0,840.6 L1301.6,839.4 L1298.1,838.1 L1294.7,836.9 L1291.2,835.7 L1287.8,834.4 L1284.4,833.2 L1280.9,832.0 L1277.5,830.7 L1274.0,829.5 L1270.6,828.2 L1267.2,827.0 L1263.7,825.7 L1260.3,824.5 L1256.8,823.2 L1253.4,822.0 L1250.0,820.7 L1246.5,819.5 L1243.1,818.2 L1239.7,816.9 L1236.2,815.7 L1232.8,814.4 L1229.3,813.1 L1225.9,811.9 L1222.5,810.6 L1219.0,809.3 L1215.6,808.0 L1212.1,806.8 L1208.7,805.5 L1205.3,804.2 L1201.8,802.9 L1198.4,801.6 L1195.0,800.4 L1191.5,799.1 L1188.1,797.8 L1184.6,796.5 L1181.2,795.2 L1177.8,793.9 L1174.3,792.6 L1170.9,791.3 L1167.4,790.0 L1164.0,788.7 L1160.6,787.4 L1157.1,786.1 L1153.7,784.8 L1150.2,783.5 L1146.8,782.2 L1143.4,780.9 L1139.9,779.5 L1136.5,778.2 L1133.1,776.9 L1129.6,775.6 L1126.2,774.3 L1122.7,772.9 L1119.3,771.6 L1115.9,770.3 L1112.4,769.0 L1109.0,767.6 L1105.5,766.3 L1102.1,765.0 L1098.7,763.7 L1095.2,762.3 L1091.8,761.0 L1088.4,759.6 L1084.9,758.3 L1081.5,757.0 L1078.0,755.6 L1074.6,754.3 L1071.2,752.9 L1067.7,751.6 L1064.3,750.2 L1060.8,748.9 L1057.4,747.5 L1054.0,746.2 L1050.5,744.8 L1047.1,743.5 L1043.6,742.1 L1040.2,740.8 L1036.8,739.4 L1033.3,738.0 L1029.9,736.7 L1026.5,735.3 L1023.0,733.9 L1019.6,732.6 L1016.1,731.2 L1012.7,729.8 L1009.3,728.5 L1005.8,727.1 L1002.4,725.7 L998.9,724.3 L995.5,723.0 L992.1,721.6 L988.6,720.2 L985.2,718.8 L981.8,717.5 L978.3,716.1 L974.9,714.7 L971.4,713.3 L968.0,711.9 L964.6,710.5 L961.1,709.2 L957.7,707.8 L954.2,706.4 L950.8,705.0 L947.4,703.6 L943.9,702.2 L940.5,700.9 L937.0,699.5 L933.6,698.1 L930.2,696.7 L926.7,695.3 L923.3,694.0 L919.9,692.6 L916.4,691.2 L913.0,689.9 L909.5,688.5 L906.1,687.1 L902.7,685.8 L899.2,684.4 L895.8,683.0 L892.3,681.7 L888.9,680.3 L885.5,679.0 L882.0,677.6 L878.6,676.2 L875.1,674.9 L871.7,673.5 L868.3,672.2 L864.8,670.8 L861.4,669.5 L858.0,668.1 L854.5,666.8 L851.1,665.4 L847.6,664.1 L844.2,662.7 L840.8,661.4 L837.3,660.0 L833.9,658.7 L830.4,657.3 L827.0,655.9 L823.6,654.6 L820.1,653.2 L816.7,651.8 L813.3,650.5 L809.8,649.1 L806.4,647.7 L802.9,646.3 L799.5,644.9 L796.1,643.5 L792.6,642.2 L789.2,640.8 L785.7,639.4 L782.3,637.9 L778.9,636.5 L775.4,635.1 L772.0,633.7 L768.5,632.3 L765.1,630.8 L761.7,629.4 L758.2,627.9 L754.8,626.5 L751.4,625.0 L747.9,623.5 L744.5,622.1 L741.0,620.6 L737.6,619.1 L734.2,617.6 L730.7,616.1 L727.3,614.6 L723.8,613.0 L720.4,611.5 L717.0,610.0 L713.5,608.4 L710.1,606.9 L706.7,605.3 L703.2,603.7 L699.8,602.1 L696.3,600.5 L692.9,598.9 L689.5,597.3 L686.0,595.7 L682.6,594.0 L679.1,592.4 L675.7,590.7 L672.3,589.0 L668.8,587.4 L665.4,585.7 L661.9,584.0 L658.5,582.3 L655.1,580.6 L651.6,578.9 L648.2,577.2 L644.8,575.4 L641.3,573.7 L637.9,572.0 L634.4,570.2 L631.0,568.5 L627.6,566.7 L624.1,565.0 L620.7,563.2 L617.2,561.4 L613.8,559.6 L610.4,557.9 L606.9,556.1 L603.5,554.3 L600.0,552.5 L596.6,550.7 L593.2,548.9 L589.7,547.1 L586.3,545.3 L582.9,543.5 L579.4,541.7 L576.0,539.9 L572.5,538.1 L569.1,536.2 L565.7,534.4 L562.2,532.6 L558.8,530.8 L555.3,529.0 L551.9,527.2 L548.5,525.3 L545.0,523.5 L541.6,521.7 L538.2,519.9 L534.7,518.1 L531.3,516.2 L527.8,514.4 L524.4,512.6 L521.0,510.8 L517.5,509.0 L514.1,507.2 L510.6,505.4 L507.2,503.6 L503.8,501.8 L500.3,500.0 L496.9,498.2 L493.4,496.4 L490.0,494.6 L486.6,492.8 L483.1,491.1 L479.7,489.3 L476.3,487.5 L472.8,485.7 L469.4,484.0 L465.9,482.2 L462.5,480.5 L459.1,478.7 L455.6,477.0 L452.2,475.3 L448.7,473.6 L445.3,471.8 L441.9,470.1 L438.4,468.4 L435.0,466.7 L431.6,465.1 L428.1,463.4 L424.7,461.7 L421.2,460.1 L417.8,458.4 L414.4,456.8 L410.9,455.1 L407.5,453.5 L404.0,451.9 L400.6,450.3 L397.2,448.7 L393.7,447.1 L390.3,445.5 L386.8,444.0 L383.4,442.4 L380.0,440.9 L376.5,439.4 L373.1,437.8 L369.7,436.3 L366.2,434.8 L362.8,433.4 L359.3,431.9 L355.9,430.4 L352.5,429.0 L349.0,427.6 L345.6,426.2 L342.1,424.8 L338.7,423.4 L335.3,422.0 L331.8,420.7 L328.4,419.3 L324.9,418.0 L321.5,416.7 L318.1,415.4 L314.6,414.1 L311.2,412.8 L307.8,411.6 L304.3,410.4 L300.9,409.1 L297.4,407.9 L294.0,406.8 Z" fill="#6fa2ef" fill-opacity="0.55"/>
<polyline points="294.0,671.8 362.8,721.7 431.6,768.9 500.3,812.1 569.1,856.0 637.9,896.9 706.7,936.6 775.4,974.3 844.2,1010.6 913.0,1044.4 981.8,1078.3 1050.5,1110.5 1119.3,1140.3 1188.1,1169.7 1256.8,1197.7 1325.6,1225.3 1394.4,1251.0 1463.2,1275.8 1532.0,1300.0 1600.7,1322.3 1669.5,1344.2 1738.3,1365.0 1807.1,1385.5 1875.8,1405.3 1944.6,1422.8" fill="none" stroke="#707070" stroke-width="1.5" stroke-linejoin="round"/>
<rect x="278.0" y="655.8" width="32.0" height="32.0" fill="#4b4b4b"/>
<rect x="346.8" y="705.7" width="32.0" height="32.0" fill="#4b4b4b"/>
<rect x="415.6" y="752.9" width="32.0" height="32.0" fill="#4b4b4b"/>
<rect x="484.3" y="796.1" width="32.0" height="32.0" fill="#4b4b4b"/>
<rect x="553.1" y="840.0" width="32.0" height="32.0" fill="#4b4b4b"/>
<rect x="621.9" y="880.9" width="32.0" height="32.0" fill="#4b4b4b"/>
<rect x="690.7" y="920.6" width="32.0" height="32.0" fill="#4b4b4b"/>
<rect x="759.4" y="958.3" width="32.0" height="32.0" fill="#4b4b4b"/>
<rect x="828.2" y="994.6" width="32.0" height="32.0" fill="#4b4b4b"/>
<rect x="897.0" y="1028.4" width="32.0" height="32.0" fill="#4b4b4b"/>
<rect x="965.8" y="1062.3" width="32.0" height="32.0" fill="#4b4b4b"/>
<rect x="1034.5" y="1094.5" width="32.0" height="32.0" fill="#4b4b4b"/>
<rect x="1103.3" y="1124.3" width="32.0" height="32.0" fill="#4b4b4b"/>
<rect x="1172.1" y="1153.7" width="32.0" height="32.0" fill="#4b4b4b"/>
<rect x="1240.8" y="1181.7" width="32.0" height="32.0" fill="#4b4b4b"/>
<rect x="1309.6" y="1209.3" width="32.0" height="32.0" fill="#4b4b4b"/>
<rect x="1378.4" y="1235.0" width="32.0" height="32.0" fill="#4b4b4b"/>
<rect x="1447.2" y="1259.8" width="32.0" height="32.0" fill="#4b4b4b"/>
<rect x="1516.0" y="1284.0" width="32.0" height="32.0" fill="#4b4b4b"/>
<rect x="1584.7" y="1306.3" width="32.0" height="32.0" fill="#4b4b4b"/>
<rect x="1653.5" y="1328.2" width="32.0" height="32.0" fill="#4b4b4b"/>
<rect x="1722.3" y="1349.0" width="32.0" height="32.0" fill="#4b4b4b"/>
<rect x="1791.1" y="1369.5" width="32.0" height="32.0" fill="#4b4b4b"/>
<rect x="1859.8" y="1389.3" width="32.0" height="32.0" fill="#4b4b4b"/>
<rect x="1928.6" y="1406.8" width="32.0" height="32.0" fill="#4b4b4b"/>
<polyline points="294.0,390.4 362.8,440.0 431.6,484.9 500.3,527.1 569.1,568.4 637.9,609.9 706.7,647.7 775.4,685.1 844.2,720.7 913.0,754.8 981.8,788.1 1050.5,820.3 1119.3,850.4 1188.1,879.1 1256.8,906.6 1325.6,933.6 1394.4,959.5 1463.2,984.7 1532.0,1009.4 1600.7,1033.1 1669.5,1054.7 1738.3,1075.7 1807.1,1095.8 1875.8,1115.1 1944.6,1134.7" fill="none" stroke="#b05a5e" stroke-width="1.5" stroke-linejoin="round"/>
<circle cx="294.0" cy="390.4" r="17.8" fill="#f23a3a" stroke="#d33434" stroke-width="1.2" stroke-linejoin="miter"/>
<circle cx="362.8" cy="440.0" r="17.8" fill="#f23a3a" stroke="#d33434" stroke-width="1.2" stroke-linejoin="miter"/>
<circle cx="431.6" cy="484.9" r="17.8" fill="#f23a3a" stroke="#d33434" stroke-width="1.2" stroke-linejoin="miter"/>
<circle cx="500.3" cy="527.1" r="17.8" fill="#f23a3a" stroke="#d33434" stroke-width="1.2" stroke-linejoin="miter"/>
<circle cx="569.1" cy="568.4" r="17.8" fill="#f23a3a" stroke="#d33434" stroke-width="1.2" stroke-linejoin="miter"/>
<circle cx="637.9" cy="609.9" r="17.8" fill="#f23a3a" stroke="#d33434" stroke-width="1.2" stroke-linejoin="miter"/>
<circle cx="706.7" cy="647.7" r="17.8" fill="#f23a3a" stroke="#d33434" stroke-width="1.2" stroke-linejoin="miter"/>
<circle cx="775.4" cy="685.1" r="17.8" fill="#f23a3a" stroke="#d33434" stroke-width="1.2" stroke-linejoin="miter"/>
<circle cx="844.2" cy="720.7" r="17.8" fill="#f23a3a" stroke="#d33434" stroke-width="1.2" stroke-linejoin="miter"/>
<circle cx="913.0" cy="754.8" r="17.8" fill="#f23a3a" stroke="#d33434" stroke-width="1.2" stroke-linejoin="miter"/>
<circle cx="981.8" cy="788.1" r="17.8" fill="#f23a3a" stroke="#d33434" stroke-width="1.2" stroke-linejoin="miter"/>
<circle cx="1050.5" cy="820.3" r="17.8" fill="#f23a3a" stroke="#d33434" stroke-width="1.2" stroke-linejoin="miter"/>
<circle cx="1119.3" cy="850.4" r="17.8" fill="#f23a3a" stroke="#d33434" stroke-width="1.2" stroke-linejoin="miter"/>
<circle cx="1188.1" cy="879.1" r="17.8" fill="#f23a3a" stroke="#d33434" stroke-width="1.2" stroke-linejoin="miter"/>
<circle cx="1256.8" cy="906.6" r="17.8" fill="#f23a3a" stroke="#d33434" stroke-width="1.2" stroke-linejoin="miter"/>
<circle cx="1325.6" cy="933.6" r="17.8" fill="#f23a3a" stroke="#d33434" stroke-width="1.2" stroke-linejoin="miter"/>
<circle cx="1394.4" cy="959.5" r="17.8" fill="#f23a3a" stroke="#d33434" stroke-width="1.2" stroke-linejoin="miter"/>
<circle cx="1463.2" cy="984.7" r="17.8" fill="#f23a3a" stroke="#d33434" stroke-width="1.2" stroke-linejoin="miter"/>
<circle cx="1532.0" cy="1009.4" r="17.8" fill="#f23a3a" stroke="#d33434" stroke-width="1.2" stroke-linejoin="miter"/>
<circle cx="1600.7" cy="1033.1" r="17.8" fill="#f23a3a" stroke="#d33434" stroke-width="1.2" stroke-linejoin="miter"/>
<circle cx="1669.5" cy="1054.7" r="17.8" fill="#f23a3a" stroke="#d33434" stroke-width="1.2" stroke-linejoin="miter"/>
<circle cx="1738.3" cy="1075.7" r="17.8" fill="#f23a3a" stroke="#d33434" stroke-width="1.2" stroke-linejoin="miter"/>
<circle cx="1807.1" cy="1095.8" r="17.8" fill="#f23a3a" stroke="#d33434" stroke-width="1.2" stroke-linejoin="miter"/>
<circle cx="1875.8" cy="1115.1" r="17.8" fill="#f23a3a" stroke="#d33434" stroke-width="1.2" stroke-linejoin="miter"/>
<circle cx="1944.6" cy="1134.7" r="17.8" fill="#f23a3a" stroke="#d33434" stroke-width="1.2" stroke-linejoin="miter"/>
<polyline points="294.0,271.4 362.8,308.2 431.6,343.2 500.3,377.8 569.1,410.4 637.9,442.5 706.7,474.7 775.4,505.1 844.2,534.4 913.0,563.1 981.8,591.8 1050.5,618.7 1119.3,644.6 1188.1,670.5 1256.8,695.4 1325.6,719.3 1394.4,743.4 1463.2,765.8 1532.0,787.2 1600.7,806.8 1669.5,827.5 1738.3,846.8 1807.1,866.6 1875.8,885.1 1944.6,904.2" fill="none" stroke="#48689e" stroke-width="1.5" stroke-linejoin="round"/>
<path d="M294.0,246.7 L315.0,283.7 L273.0,283.7 Z" fill="#1c6fdc" stroke="#1a5fc0" stroke-width="1.2" stroke-linejoin="miter"/>
<path d="M362.8,283.5 L383.8,320.5 L341.8,320.5 Z" fill="#1c6fdc" stroke="#1a5fc0" stroke-width="1.2" stroke-linejoin="miter"/>
<path d="M431.6,318.5 L452.6,355.5 L410.6,355.5 Z" fill="#1c6fdc" stroke="#1a5fc0" stroke-width="1.2" stroke-linejoin="miter"/>
<path d="M500.3,353.1 L521.3,390.1 L479.3,390.1 Z" fill="#1c6fdc" stroke="#1a5fc0" stroke-width="1.2" stroke-linejoin="miter"/>
<path d="M569.1,385.7 L590.1,422.7 L548.1,422.7 Z" fill="#1c6fdc" stroke="#1a5fc0" stroke-width="1.2" stroke-linejoin="miter"/>
<path d="M637.9,417.9 L658.9,454.9 L616.9,454.9 Z" fill="#1c6fdc" stroke="#1a5fc0" stroke-width="1.2" stroke-linejoin="miter"/>
<path d="M706.7,450.0 L727.7,487.0 L685.7,487.0 Z" fill="#1c6fdc" stroke="#1a5fc0" stroke-width="1.2" stroke-linejoin="miter"/>
<path d="M775.4,480.4 L796.4,517.4 L754.4,517.4 Z" fill="#1c6fdc" stroke="#1a5fc0" stroke-width="1.2" stroke-linejoin="miter"/>
<path d="M844.2,509.7 L865.2,546.7 L823.2,546.7 Z" fill="#1c6fdc" stroke="#1a5fc0" stroke-width="1.2" stroke-linejoin="miter"/>
<path d="M913.0,538.4 L934.0,575.4 L892.0,575.4 Z" fill="#1c6fdc" stroke="#1a5fc0" stroke-width="1.2" stroke-linejoin="miter"/>
<path d="M981.8,567.1 L1002.8,604.1 L960.8,604.1 Z" fill="#1c6fdc" stroke="#1a5fc0" stroke-width="1.2" stroke-linejoin="miter"/>
<path d="M1050.5,594.0 L1071.5,631.0 L1029.5,631.0 Z" fill="#1c6fdc" stroke="#1a5fc0" stroke-width="1.2" stroke-linejoin="miter"/>
<path d="M1119.3,620.0 L1140.3,657.0 L1098.3,657.0 Z" fill="#1c6fdc" stroke="#1a5fc0" stroke-width="1.2" stroke-linejoin="miter"/>
<path d="M1188.1,645.8 L1209.1,682.8 L1167.1,682.8 Z" fill="#1c6fdc" stroke="#1a5fc0" stroke-width="1.2" stroke-linejoin="miter"/>
<path d="M1256.8,670.7 L1277.8,707.7 L1235.8,707.7 Z" fill="#1c6fdc" stroke="#1a5fc0" stroke-width="1.2" stroke-linejoin="miter"/>
<path d="M1325.6,694.6 L1346.6,731.6 L1304.6,731.6 Z" fill="#1c6fdc" stroke="#1a5fc0" stroke-width="1.2" stroke-linejoin="miter"/>
<path d="M1394.4,718.7 L1415.4,755.7 L1373.4,755.7 Z" fill="#1c6fdc" stroke="#1a5fc0" stroke-width="1.2" stroke-linejoin="miter"/>
<path d="M1463.2,741.1 L1484.2,778.1 L1442.2,778.1 Z" fill="#1c6fdc" stroke="#1a5fc0" stroke-width="1.2" stroke-linejoin="miter"/>
<path d="M1532.0,762.5 L1553.0,799.5 L1511.0,799.5 Z" fill="#1c6fdc" stroke="#1a5fc0" stroke-width="1.2" stroke-linejoin="miter"/>
<path d="M1600.7,782.1 L1621.7,819.1 L1579.7,819.1 Z" fill="#1c6fdc" stroke="#1a5fc0" stroke-width="1.2" stroke-linejoin="miter"/>
<path d="M1669.5,802.8 L1690.5,839.8 L1648.5,839.8 Z" fill="#1c6fdc" stroke="#1a5fc0" stroke-width="1.2" stroke-linejoin="miter"/>
<path d="M1738.3,822.1 L1759.3,859.1 L1717.3,859.1 Z" fill="#1c6fdc" stroke="#1a5fc0" stroke-width="1.2" stroke-linejoin="miter"/>
<path d="M1807.1,842.0 L1828.1,879.0 L1786.1,879.0 Z" fill="#1c6fdc" stroke="#1a5fc0" stroke-width="1.2" stroke-linejoin="miter"/>
<path d="M1875.8,860.4 L1896.8,897.4 L1854.8,897.4 Z" fill="#1c6fdc" stroke="#1a5fc0" stroke-width="1.2" stroke-linejoin="miter"/>
<path d="M1944.6,879.5 L1965.6,916.5 L1923.6,916.5 Z" fill="#1c6fdc" stroke="#1a5fc0" stroke-width="1.2" stroke-linejoin="miter"/>
<polyline points="294.0,666.9 362.8,742.7 431.6,850.7 500.3,897.8 569.1,941.6 637.9,973.5 706.7,1025.2 775.4,1052.2 844.2,1098.7 913.0,1124.0 981.8,1168.8 1050.5,1189.4 1119.3,1223.2 1188.1,1244.6 1256.8,1277.9 1325.6,1311.2 1394.4,1330.1 1463.2,1367.4 1532.0,1388.1 1600.7,1402.5 1669.5,1412.8 1738.3,1447.8 1807.1,1480.0 1875.8,1499.5 1944.6,1503.0" fill="none" stroke="#4a8466" stroke-width="1.5" stroke-linejoin="round"/>
<path d="M273.5,654.9 L314.5,654.9 L294.0,690.9 Z" fill="#27b064" stroke="#23955a" stroke-width="1.2" stroke-linejoin="miter"/>
<path d="M342.3,730.7 L383.3,730.7 L362.8,766.7 Z" fill="#27b064" stroke="#23955a" stroke-width="1.2" stroke-linejoin="miter"/>
<path d="M411.1,838.7 L452.1,838.7 L431.6,874.7 Z" fill="#27b064" stroke="#23955a" stroke-width="1.2" stroke-linejoin="miter"/>
<path d="M479.8,885.8 L520.8,885.8 L500.3,921.8 Z" fill="#27b064" stroke="#23955a" stroke-width="1.2" stroke-linejoin="miter"/>
<path d="M548.6,929.6 L589.6,929.6 L569.1,965.6 Z" fill="#27b064" stroke="#23955a" stroke-width="1.2" stroke-linejoin="miter"/>
<path d="M617.4,961.5 L658.4,961.5 L637.9,997.5 Z" fill="#27b064" stroke="#23955a" stroke-width="1.2" stroke-linejoin="miter"/>
<path d="M686.2,1013.2 L727.2,1013.2 L706.7,1049.2 Z" fill="#27b064" stroke="#23955a" stroke-width="1.2" stroke-linejoin="miter"/>
<path d="M754.9,1040.2 L795.9,1040.2 L775.4,1076.2 Z" fill="#27b064" stroke="#23955a" stroke-width="1.2" stroke-linejoin="miter"/>
<path d="M823.7,1086.7 L864.7,1086.7 L844.2,1122.7 Z" fill="#27b064" stroke="#23955a" stroke-width="1.2" stroke-linejoin="miter"/>
<path d="M892.5,1112.0 L933.5,1112.0 L913.0,1148.0 Z" fill="#27b064" stroke="#23955a" stroke-width="1.2" stroke-linejoin="miter"/>
<path d="M961.2,1156.8 L1002.2,1156.8 L981.8,1192.8 Z" fill="#27b064" stroke="#23955a" stroke-width="1.2" stroke-linejoin="miter"/>
<path d="M1030.0,1177.4 L1071.0,1177.4 L1050.5,1213.4 Z" fill="#27b064" stroke="#23955a" stroke-width="1.2" stroke-linejoin="miter"/>
<path d="M1098.8,1211.2 L1139.8,1211.2 L1119.3,1247.2 Z" fill="#27b064" stroke="#23955a" stroke-width="1.2" stroke-linejoin="miter"/>
<path d="M1167.6,1232.6 L1208.6,1232.6 L1188.1,1268.6 Z" fill="#27b064" stroke="#23955a" stroke-width="1.2" stroke-linejoin="miter"/>
<path d="M1236.3,1265.9 L1277.3,1265.9 L1256.8,1301.9 Z" fill="#27b064" stroke="#23955a" stroke-width="1.2" stroke-linejoin="miter"/>
<path d="M1305.1,1299.2 L1346.1,1299.2 L1325.6,1335.2 Z" fill="#27b064" stroke="#23955a" stroke-width="1.2" stroke-linejoin="miter"/>
<path d="M1373.9,1318.1 L1414.9,1318.1 L1394.4,1354.1 Z" fill="#27b064" stroke="#23955a" stroke-width="1.2" stroke-linejoin="miter"/>
<path d="M1442.7,1355.4 L1483.7,1355.4 L1463.2,1391.4 Z" fill="#27b064" stroke="#23955a" stroke-width="1.2" stroke-linejoin="miter"/>
<path d="M1511.5,1376.1 L1552.5,1376.1 L1532.0,1412.1 Z" fill="#27b064" stroke="#23955a" stroke-width="1.2" stroke-linejoin="miter"/>
<path d="M1580.2,1390.5 L1621.2,1390.5 L1600.7,1426.5 Z" fill="#27b064" stroke="#23955a" stroke-width="1.2" stroke-linejoin="miter"/>
<path d="M1649.0,1400.8 L1690.0,1400.8 L1669.5,1436.8 Z" fill="#27b064" stroke="#23955a" stroke-width="1.2" stroke-linejoin="miter"/>
<path d="M1717.8,1435.8 L1758.8,1435.8 L1738.3,1471.8 Z" fill="#27b064" stroke="#23955a" stroke-width="1.2" stroke-linejoin="miter"/>
<path d="M1786.6,1468.0 L1827.6,1468.0 L1807.1,1504.0 Z" fill="#27b064" stroke="#23955a" stroke-width="1.2" stroke-linejoin="miter"/>
<path d="M1855.3,1487.5 L1896.3,1487.5 L1875.8,1523.5 Z" fill="#27b064" stroke="#23955a" stroke-width="1.2" stroke-linejoin="miter"/>
<path d="M1924.1,1491.0 L1965.1,1491.0 L1944.6,1527.0 Z" fill="#27b064" stroke="#23955a" stroke-width="1.2" stroke-linejoin="miter"/>
<polyline points="294.0,390.9 362.8,448.5 431.6,544.3 500.3,622.7 569.1,665.2 637.9,717.1 706.7,752.3 775.4,782.8 844.2,817.3 913.0,852.1 981.8,890.0 1050.5,917.5 1119.3,948.5 1188.1,979.5 1256.8,1016.3 1325.6,1042.7 1394.4,1071.4 1463.2,1085.2 1532.0,1119.7 1600.7,1133.4 1669.5,1162.1 1738.3,1176.7 1807.1,1197.4 1875.8,1230.2 1944.6,1239.9" fill="none" stroke="#9a74ac" stroke-width="1.5" stroke-linejoin="round"/>
<path d="M294.0,369.4 L315.5,390.9 L294.0,412.4 L272.5,390.9 Z" fill="#ad70f0" stroke="#9566c8" stroke-width="1.2" stroke-linejoin="miter"/>
<path d="M362.8,427.0 L384.3,448.5 L362.8,470.0 L341.3,448.5 Z" fill="#ad70f0" stroke="#9566c8" stroke-width="1.2" stroke-linejoin="miter"/>
<path d="M431.6,522.8 L453.1,544.3 L431.6,565.8 L410.1,544.3 Z" fill="#ad70f0" stroke="#9566c8" stroke-width="1.2" stroke-linejoin="miter"/>
<path d="M500.3,601.2 L521.8,622.7 L500.3,644.2 L478.8,622.7 Z" fill="#ad70f0" stroke="#9566c8" stroke-width="1.2" stroke-linejoin="miter"/>
<path d="M569.1,643.7 L590.6,665.2 L569.1,686.7 L547.6,665.2 Z" fill="#ad70f0" stroke="#9566c8" stroke-width="1.2" stroke-linejoin="miter"/>
<path d="M637.9,695.6 L659.4,717.1 L637.9,738.6 L616.4,717.1 Z" fill="#ad70f0" stroke="#9566c8" stroke-width="1.2" stroke-linejoin="miter"/>
<path d="M706.7,730.8 L728.2,752.3 L706.7,773.8 L685.2,752.3 Z" fill="#ad70f0" stroke="#9566c8" stroke-width="1.2" stroke-linejoin="miter"/>
<path d="M775.4,761.3 L796.9,782.8 L775.4,804.3 L753.9,782.8 Z" fill="#ad70f0" stroke="#9566c8" stroke-width="1.2" stroke-linejoin="miter"/>
<path d="M844.2,795.8 L865.7,817.3 L844.2,838.8 L822.7,817.3 Z" fill="#ad70f0" stroke="#9566c8" stroke-width="1.2" stroke-linejoin="miter"/>
<path d="M913.0,830.6 L934.5,852.1 L913.0,873.6 L891.5,852.1 Z" fill="#ad70f0" stroke="#9566c8" stroke-width="1.2" stroke-linejoin="miter"/>
<path d="M981.8,868.5 L1003.2,890.0 L981.8,911.5 L960.2,890.0 Z" fill="#ad70f0" stroke="#9566c8" stroke-width="1.2" stroke-linejoin="miter"/>
<path d="M1050.5,896.0 L1072.0,917.5 L1050.5,939.0 L1029.0,917.5 Z" fill="#ad70f0" stroke="#9566c8" stroke-width="1.2" stroke-linejoin="miter"/>
<path d="M1119.3,927.0 L1140.8,948.5 L1119.3,970.0 L1097.8,948.5 Z" fill="#ad70f0" stroke="#9566c8" stroke-width="1.2" stroke-linejoin="miter"/>
<path d="M1188.1,958.0 L1209.6,979.5 L1188.1,1001.0 L1166.6,979.5 Z" fill="#ad70f0" stroke="#9566c8" stroke-width="1.2" stroke-linejoin="miter"/>
<path d="M1256.8,994.8 L1278.3,1016.3 L1256.8,1037.8 L1235.3,1016.3 Z" fill="#ad70f0" stroke="#9566c8" stroke-width="1.2" stroke-linejoin="miter"/>
<path d="M1325.6,1021.2 L1347.1,1042.7 L1325.6,1064.2 L1304.1,1042.7 Z" fill="#ad70f0" stroke="#9566c8" stroke-width="1.2" stroke-linejoin="miter"/>
<path d="M1394.4,1049.9 L1415.9,1071.4 L1394.4,1092.9 L1372.9,1071.4 Z" fill="#ad70f0" stroke="#9566c8" stroke-width="1.2" stroke-linejoin="miter"/>
<path d="M1463.2,1063.7 L1484.7,1085.2 L1463.2,1106.7 L1441.7,1085.2 Z" fill="#ad70f0" stroke="#9566c8" stroke-width="1.2" stroke-linejoin="miter"/>
<path d="M1532.0,1098.2 L1553.5,1119.7 L1532.0,1141.2 L1510.5,1119.7 Z" fill="#ad70f0" stroke="#9566c8" stroke-width="1.2" stroke-linejoin="miter"/>
<path d="M1600.7,1111.9 L1622.2,1133.4 L1600.7,1154.9 L1579.2,1133.4 Z" fill="#ad70f0" stroke="#9566c8" stroke-width="1.2" stroke-linejoin="miter"/>
<path d="M1669.5,1140.6 L1691.0,1162.1 L1669.5,1183.6 L1648.0,1162.1 Z" fill="#ad70f0" stroke="#9566c8" stroke-width="1.2" stroke-linejoin="miter"/>
<path d="M1738.3,1155.2 L1759.8,1176.7 L1738.3,1198.2 L1716.8,1176.7 Z" fill="#ad70f0" stroke="#9566c8" stroke-width="1.2" stroke-linejoin="miter"/>
<path d="M1807.1,1175.9 L1828.6,1197.4 L1807.1,1218.9 L1785.6,1197.4 Z" fill="#ad70f0" stroke="#9566c8" stroke-width="1.2" stroke-linejoin="miter"/>
<path d="M1875.8,1208.7 L1897.3,1230.2 L1875.8,1251.7 L1854.3,1230.2 Z" fill="#ad70f0" stroke="#9566c8" stroke-width="1.2" stroke-linejoin="miter"/>
<path d="M1944.6,1218.4 L1966.1,1239.9 L1944.6,1261.4 L1923.1,1239.9 Z" fill="#ad70f0" stroke="#9566c8" stroke-width="1.2" stroke-linejoin="miter"/>
<polyline points="294.0,271.0 362.8,308.7 431.6,357.1 500.3,450.1 569.1,505.7 637.9,550.6 706.7,577.6 775.4,592.1 844.2,644.0 913.0,662.0 981.8,701.1 1050.5,716.6 1119.3,742.5 1188.1,785.7 1256.8,794.3 1325.6,818.8 1394.4,842.9 1463.2,879.6 1532.0,884.8 1600.7,922.1 1669.5,932.2 1738.3,938.0 1807.1,982.6 1875.8,1002.7 1944.6,1015.7" fill="none" stroke="#ab9a44" stroke-width="1.5" stroke-linejoin="round"/>
<path d="M272.7,271.0 L308.7,250.5 L308.7,291.5 Z" fill="#d9a008" stroke="#b89216" stroke-width="1.2" stroke-linejoin="miter"/>
<path d="M341.5,308.7 L377.5,288.2 L377.5,329.2 Z" fill="#d9a008" stroke="#b89216" stroke-width="1.2" stroke-linejoin="miter"/>
<path d="M410.2,357.1 L446.2,336.6 L446.2,377.6 Z" fill="#d9a008" stroke="#b89216" stroke-width="1.2" stroke-linejoin="miter"/>
<path d="M479.0,450.1 L515.0,429.6 L515.0,470.6 Z" fill="#d9a008" stroke="#b89216" stroke-width="1.2" stroke-linejoin="miter"/>
<path d="M547.8,505.7 L583.8,485.2 L583.8,526.2 Z" fill="#d9a008" stroke="#b89216" stroke-width="1.2" stroke-linejoin="miter"/>
<path d="M616.6,550.6 L652.6,530.1 L652.6,571.1 Z" fill="#d9a008" stroke="#b89216" stroke-width="1.2" stroke-linejoin="miter"/>
<path d="M685.4,577.6 L721.4,557.1 L721.4,598.1 Z" fill="#d9a008" stroke="#b89216" stroke-width="1.2" stroke-linejoin="miter"/>
<path d="M754.1,592.1 L790.1,571.6 L790.1,612.6 Z" fill="#d9a008" stroke="#b89216" stroke-width="1.2" stroke-linejoin="miter"/>
<path d="M822.9,644.0 L858.9,623.5 L858.9,664.5 Z" fill="#d9a008" stroke="#b89216" stroke-width="1.2" stroke-linejoin="miter"/>
<path d="M891.7,662.0 L927.7,641.5 L927.7,682.5 Z" fill="#d9a008" stroke="#b89216" stroke-width="1.2" stroke-linejoin="miter"/>
<path d="M960.5,701.1 L996.5,680.6 L996.5,721.6 Z" fill="#d9a008" stroke="#b89216" stroke-width="1.2" stroke-linejoin="miter"/>
<path d="M1029.2,716.6 L1065.2,696.1 L1065.2,737.1 Z" fill="#d9a008" stroke="#b89216" stroke-width="1.2" stroke-linejoin="miter"/>
<path d="M1098.0,742.5 L1134.0,722.0 L1134.0,763.0 Z" fill="#d9a008" stroke="#b89216" stroke-width="1.2" stroke-linejoin="miter"/>
<path d="M1166.8,785.7 L1202.8,765.2 L1202.8,806.2 Z" fill="#d9a008" stroke="#b89216" stroke-width="1.2" stroke-linejoin="miter"/>
<path d="M1235.5,794.3 L1271.5,773.8 L1271.5,814.8 Z" fill="#d9a008" stroke="#b89216" stroke-width="1.2" stroke-linejoin="miter"/>
<path d="M1304.3,818.8 L1340.3,798.3 L1340.3,839.3 Z" fill="#d9a008" stroke="#b89216" stroke-width="1.2" stroke-linejoin="miter"/>
<path d="M1373.1,842.9 L1409.1,822.4 L1409.1,863.4 Z" fill="#d9a008" stroke="#b89216" stroke-width="1.2" stroke-linejoin="miter"/>
<path d="M1441.9,879.6 L1477.9,859.1 L1477.9,900.1 Z" fill="#d9a008" stroke="#b89216" stroke-width="1.2" stroke-linejoin="miter"/>
<path d="M1510.7,884.8 L1546.7,864.3 L1546.7,905.3 Z" fill="#d9a008" stroke="#b89216" stroke-width="1.2" stroke-linejoin="miter"/>
<path d="M1579.4,922.1 L1615.4,901.6 L1615.4,942.6 Z" fill="#d9a008" stroke="#b89216" stroke-width="1.2" stroke-linejoin="miter"/>
<path d="M1648.2,932.2 L1684.2,911.7 L1684.2,952.7 Z" fill="#d9a008" stroke="#b89216" stroke-width="1.2" stroke-linejoin="miter"/>
<path d="M1717.0,938.0 L1753.0,917.5 L1753.0,958.5 Z" fill="#d9a008" stroke="#b89216" stroke-width="1.2" stroke-linejoin="miter"/>
<path d="M1785.8,982.6 L1821.8,962.1 L1821.8,1003.1 Z" fill="#d9a008" stroke="#b89216" stroke-width="1.2" stroke-linejoin="miter"/>
<path d="M1854.5,1002.7 L1890.5,982.2 L1890.5,1023.2 Z" fill="#d9a008" stroke="#b89216" stroke-width="1.2" stroke-linejoin="miter"/>
<path d="M1923.3,1015.7 L1959.3,995.2 L1959.3,1036.2 Z" fill="#d9a008" stroke="#b89216" stroke-width="1.2" stroke-linejoin="miter"/>
<g stroke="#000" stroke-width="5" fill="none">
<line x1="226.0" y1="164" x2="226.0" y2="1673.6"/>
<line x1="195.2" y1="1659.2" x2="2086" y2="1659.2"/>
<line x1="210.5" y1="1544.6" x2="226.0" y2="1544.6"/>
<line x1="195.2" y1="1429.7" x2="226.0" y2="1429.7"/>
<line x1="210.5" y1="1314.9" x2="226.0" y2="1314.9"/>
<line x1="195.2" y1="1200.0" x2="226.0" y2="1200.0"/>
<line x1="210.5" y1="1085.2" x2="226.0" y2="1085.2"/>
<line x1="195.2" y1="970.4" x2="226.0" y2="970.4"/>
<line x1="210.5" y1="855.5" x2="226.0" y2="855.5"/>
<line x1="195.2" y1="740.7" x2="226.0" y2="740.7"/>
<line x1="210.5" y1="625.8" x2="226.0" y2="625.8"/>
<line x1="195.2" y1="511.0" x2="226.0" y2="511.0"/>
<line x1="210.5" y1="396.2" x2="226.0" y2="396.2"/>
<line x1="195.2" y1="281.3" x2="226.0" y2="281.3"/>
<line x1="210.5" y1="166.5" x2="226.0" y2="166.5"/>
<line x1="294.0" y1="1659.2" x2="294.0" y2="1688"/>
<line x1="362.8" y1="1659.2" x2="362.8" y2="1673.5"/>
<line x1="431.6" y1="1659.2" x2="431.6" y2="1688"/>
<line x1="500.3" y1="1659.2" x2="500.3" y2="1673.5"/>
<line x1="569.1" y1="1659.2" x2="569.1" y2="1688"/>
<line x1="637.9" y1="1659.2" x2="637.9" y2="1673.5"/>
<line x1="706.7" y1="1659.2" x2="706.7" y2="1688"/>
<line x1="775.4" y1="1659.2" x2="775.4" y2="1673.5"/>
<line x1="844.2" y1="1659.2" x2="844.2" y2="1688"/>
<line x1="913.0" y1="1659.2" x2="913.0" y2="1673.5"/>
<line x1="981.8" y1="1659.2" x2="981.8" y2="1688"/>
<line x1="1050.5" y1="1659.2" x2="1050.5" y2="1673.5"/>
<line x1="1119.3" y1="1659.2" x2="1119.3" y2="1688"/>
<line x1="1188.1" y1="1659.2" x2="1188.1" y2="1673.5"/>
<line x1="1256.8" y1="1659.2" x2="1256.8" y2="1688"/>
<line x1="1325.6" y1="1659.2" x2="1325.6" y2="1673.5"/>
<line x1="1394.4" y1="1659.2" x2="1394.4" y2="1688"/>
<line x1="1463.2" y1="1659.2" x2="1463.2" y2="1673.5"/>
<line x1="1532.0" y1="1659.2" x2="1532.0" y2="1688"/>
<line x1="1600.7" y1="1659.2" x2="1600.7" y2="1673.5"/>
<line x1="1669.5" y1="1659.2" x2="1669.5" y2="1688"/>
<line x1="1738.3" y1="1659.2" x2="1738.3" y2="1673.5"/>
<line x1="1807.1" y1="1659.2" x2="1807.1" y2="1688"/>
<line x1="1875.8" y1="1659.2" x2="1875.8" y2="1673.5"/>
<line x1="1944.6" y1="1659.2" x2="1944.6" y2="1688"/>
<line x1="2013.4" y1="1659.2" x2="2013.4" y2="1673.5"/>
<line x1="2082.2" y1="1659.2" x2="2082.2" y2="1688"/>
</g>
<text x="176.7" y="1677.9" font-size="64" text-anchor="end">8</text>
<text x="176.7" y="1448.2" font-size="64" text-anchor="end">10</text>
<text x="176.7" y="1218.5" font-size="64" text-anchor="end">12</text>
<text x="176.7" y="988.9" font-size="64" text-anchor="end">14</text>
<text x="176.7" y="759.2" font-size="64" text-anchor="end">16</text>
<text x="176.7" y="529.5" font-size="64" text-anchor="end">18</text>
<text x="176.7" y="299.8" font-size="64" text-anchor="end">20</text>
<text x="294.0" y="1756.8" font-size="64" text-anchor="middle">0</text>
<text x="431.6" y="1756.8" font-size="64" text-anchor="middle">10</text>
<text x="569.1" y="1756.8" font-size="64" text-anchor="middle">20</text>
<text x="706.7" y="1756.8" font-size="64" text-anchor="middle">30</text>
<text x="844.2" y="1756.8" font-size="64" text-anchor="middle">40</text>
<text x="981.8" y="1756.8" font-size="64" text-anchor="middle">50</text>
<text x="1119.3" y="1756.8" font-size="64" text-anchor="middle">60</text>
<text x="1256.8" y="1756.8" font-size="64" text-anchor="middle">70</text>
<text x="1394.4" y="1756.8" font-size="64" text-anchor="middle">80</text>
<text x="1532.0" y="1756.8" font-size="64" text-anchor="middle">90</text>
<text x="1669.5" y="1756.8" font-size="64" text-anchor="middle">100</text>
<text x="1807.1" y="1756.8" font-size="64" text-anchor="middle">110</text>
<text x="1944.6" y="1756.8" font-size="64" text-anchor="middle">120</text>
<text x="2082.2" y="1756.8" font-size="64" text-anchor="middle">130</text>
<text x="1017.3" y="1879.3" font-size="78">Time(m)</text>
<text transform="translate(80,1177) rotate(-90)" font-size="78">Temperature(°C)</text>
<line x1="963.7" y1="37.1" x2="1107" y2="37.1" stroke="#b4b4b4" stroke-width="3"/>
<rect x="1019.4" y="21.1" width="32.0" height="32.0" fill="#4b4b4b"/>
<text x="1124.6" y="58.6" font-size="63.6" xml:space="preserve">The temperature field is 0.01 m from the surface</text>
<line x1="963.7" y1="115.7" x2="1107" y2="115.7" stroke="#ef8c8c" stroke-width="3"/>
<circle cx="1035.4" cy="115.7" r="17.8" fill="#f23a3a" stroke="#d33434" stroke-width="1.2" stroke-linejoin="miter"/>
<text x="1124.6" y="137.2" font-size="63.6" xml:space="preserve">The temperature field is 0.02 m from the surface</text>
<line x1="963.7" y1="194.3" x2="1107" y2="194.3" stroke="#5f7fe0" stroke-width="3"/>
<path d="M1035.4,169.7 L1056.4,206.7 L1014.4,206.7 Z" fill="#1c6fdc" stroke="#1a5fc0" stroke-width="1.2" stroke-linejoin="miter"/>
<text x="1124.6" y="215.8" font-size="63.6" xml:space="preserve">The temperature field is 0.03 m from the surface</text>
<line x1="963.7" y1="273.0" x2="1107" y2="273.0" stroke="#98d4b0" stroke-width="3"/>
<path d="M1014.9,261.0 L1055.9,261.0 L1035.4,297.0 Z" fill="#27b064" stroke="#23955a" stroke-width="1.2" stroke-linejoin="miter"/>
<text x="1124.6" y="294.5" font-size="63.6" xml:space="preserve">The actual measuring surface is 0.01m</text>
<line x1="963.7" y1="351.6" x2="1107" y2="351.6" stroke="#cdb0e6" stroke-width="3"/>
<path d="M1035.4,330.1 L1056.9,351.6 L1035.4,373.1 L1013.9,351.6 Z" fill="#ad70f0" stroke="#9566c8" stroke-width="1.2" stroke-linejoin="miter"/>
<text x="1124.6" y="373.1" font-size="63.6" xml:space="preserve">The actual measuring surface is 0.02m</text>
<line x1="963.7" y1="430.2" x2="1107" y2="430.2" stroke="#d6b446" stroke-width="3"/>
<path d="M1011.4,430.2 L1047.4,409.7 L1047.4,450.7 Z" fill="#d9a008" stroke="#b89216" stroke-width="1.2" stroke-linejoin="miter"/>
<text x="1124.6" y="451.7" font-size="63.6" xml:space="preserve"> The actual measuring surface is 0.03m</text>
</svg></body></html>
